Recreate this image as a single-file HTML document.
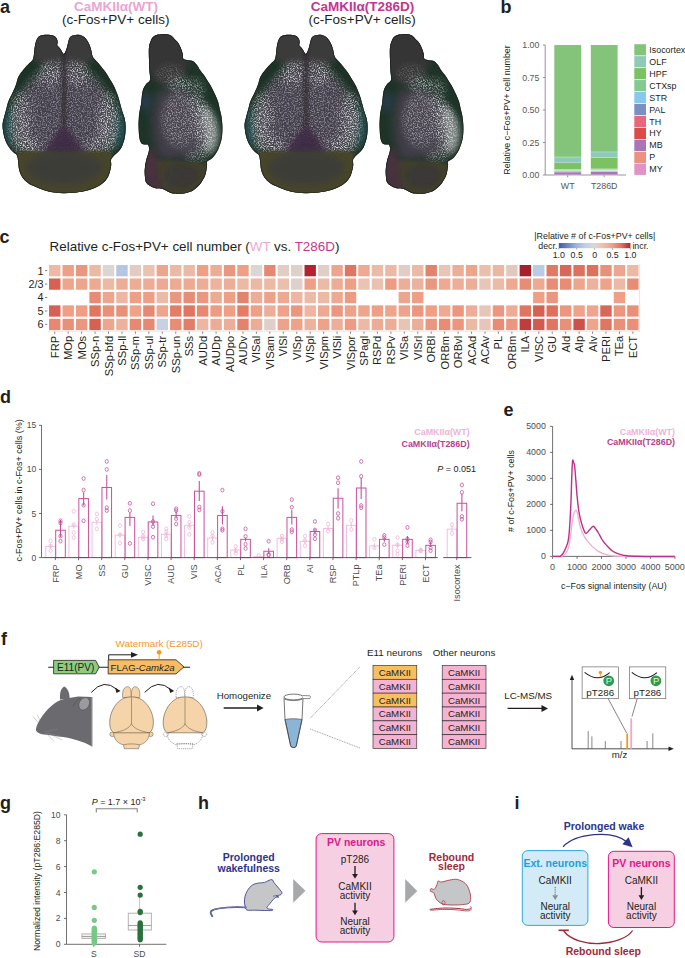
<!DOCTYPE html>
<html><head><meta charset="utf-8"><style>
html,body{margin:0;padding:0;background:#fff;width:685px;height:958px;overflow:hidden}
svg{display:block}
text{font-family:"Liberation Sans", sans-serif}
</style></head><body>
<svg width="685" height="958" viewBox="0 0 685 958" font-family='"Liberation Sans", sans-serif'>
<defs>
<filter id="bl1" x="-50%" y="-50%" width="200%" height="200%"><feGaussianBlur stdDeviation="1.5"/></filter>
<filter id="bl2" x="-50%" y="-50%" width="200%" height="200%"><feGaussianBlur stdDeviation="3"/></filter>
<filter id="bl4" x="-50%" y="-50%" width="200%" height="200%"><feGaussianBlur stdDeviation="5"/></filter>
<filter id="bl8" x="-50%" y="-50%" width="200%" height="200%"><feGaussianBlur stdDeviation="8"/></filter>
</defs>
<text x="0" y="12.6" font-size="18" fill="#231f20" text-anchor="start" font-weight="bold">a</text>
<text x="500.5" y="12.8" font-size="18" fill="#231f20" text-anchor="start" font-weight="bold">b</text>
<text x="-0.4" y="242.6" font-size="18" fill="#231f20" text-anchor="start" font-weight="bold">c</text>
<text x="0" y="403.2" font-size="18" fill="#231f20" text-anchor="start" font-weight="bold">d</text>
<text x="503.5" y="416.3" font-size="18" fill="#231f20" text-anchor="start" font-weight="bold">e</text>
<text x="1" y="644.8" font-size="18" fill="#231f20" text-anchor="start" font-weight="bold">f</text>
<text x="0" y="808.6" font-size="18" fill="#231f20" text-anchor="start" font-weight="bold">g</text>
<text x="198" y="808.8" font-size="18" fill="#231f20" text-anchor="start" font-weight="bold">h</text>
<text x="514.4" y="809.2" font-size="18" fill="#231f20" text-anchor="start" font-weight="bold">i</text>
<text x="116" y="10.8" font-size="13.5" fill="#e9a6d0" text-anchor="middle" font-weight="bold">CaMKIIα(WT)</text>
<text x="115.75" y="23.7" font-size="13.5" fill="#231f20" text-anchor="middle">(c-Fos+PV+ cells)</text>
<text x="362.6" y="10.8" font-size="13.5" fill="#c2368f" text-anchor="middle" font-weight="bold">CaMKIIα(T286D)</text>
<text x="362.2" y="23.7" font-size="13.5" fill="#231f20" text-anchor="middle">(c-Fos+PV+ cells)</text>
<defs><clipPath id="cpD"><path d="M63.8,54.0 C64.7,53.8 65.8,51.0 66.5,49.0 C67.2,47.0 67.8,43.8 68.3,42.0 C68.8,40.2 68.9,39.0 69.5,38.0 C70.1,37.0 70.9,36.2 72.0,35.7 C73.1,35.2 74.6,35.0 76.0,34.9 C77.4,34.8 79.1,34.8 80.5,35.2 C81.9,35.6 83.3,36.2 84.5,37.2 C85.7,38.2 86.6,39.6 87.5,41.0 C88.4,42.4 89.2,43.9 89.8,45.5 C90.4,47.1 90.9,48.8 91.3,50.5 C91.7,52.2 91.8,54.1 92.3,55.5 C92.8,56.9 93.1,57.5 94.0,58.6 C94.9,59.7 96.2,60.8 97.5,62.2 C98.8,63.6 100.2,65.4 101.5,67.0 C102.8,68.6 104.2,70.1 105.5,72.0 C106.8,73.9 108.0,76.1 109.5,78.5 C111.0,80.9 112.8,83.6 114.2,86.5 C115.6,89.4 116.9,92.9 118.0,96.0 C119.1,99.1 119.8,102.3 120.6,105.0 C121.3,107.7 121.8,109.7 122.5,112.0 C123.2,114.3 124.3,116.7 124.8,119.0 C125.3,121.3 125.5,123.7 125.6,126.0 C125.7,128.3 125.6,130.7 125.4,133.0 C125.2,135.3 124.9,137.6 124.2,140.0 C123.5,142.4 122.6,145.3 121.5,147.4 C120.4,149.5 118.9,151.0 117.5,152.5 C116.1,154.0 114.3,155.2 113.2,156.5 C112.1,157.8 111.3,158.5 111.0,160.0 C110.7,161.5 111.5,163.2 111.2,165.5 C110.9,167.8 110.1,171.6 109.2,174.0 C108.3,176.4 107.5,178.1 106.0,180.0 C104.5,181.9 102.3,183.8 100.0,185.3 C97.7,186.8 94.7,188.0 92.0,189.0 C89.3,190.0 87.0,190.7 84.0,191.3 C81.0,191.9 77.3,192.5 74.0,192.8 C70.7,193.1 67.3,193.2 64.0,193.2 C60.7,193.2 57.2,193.0 54.0,192.6 C50.8,192.2 48.0,191.4 45.0,190.5 C42.0,189.6 38.8,188.2 36.0,187.0 C33.2,185.8 30.2,184.6 28.0,183.0 C25.8,181.4 24.0,179.7 22.5,177.5 C21.0,175.3 19.9,172.6 19.2,170.0 C18.5,167.4 18.6,164.4 18.2,162.0 C17.8,159.6 17.9,157.2 17.0,155.5 C16.1,153.8 13.9,153.0 12.5,151.5 C11.1,150.0 9.7,148.4 8.5,146.5 C7.3,144.6 6.1,142.4 5.2,140.0 C4.3,137.6 3.6,134.7 3.2,132.0 C2.8,129.3 2.4,126.7 2.6,124.0 C2.8,121.3 3.8,118.5 4.4,116.0 C5.0,113.5 5.6,111.5 6.3,109.0 C7.0,106.5 7.4,103.8 8.5,101.0 C9.6,98.2 11.6,94.8 12.8,92.0 C14.1,89.2 15.1,87.1 16.0,84.5 C16.9,81.9 17.2,79.0 18.5,76.5 C19.8,74.0 21.8,71.6 23.5,69.5 C25.2,67.4 26.9,65.7 28.5,64.0 C30.1,62.3 31.9,61.2 32.8,59.5 C33.7,57.8 33.7,55.9 34.0,54.0 C34.3,52.1 34.3,50.0 34.6,48.0 C34.9,46.0 35.2,43.8 35.8,42.0 C36.4,40.2 37.0,38.5 38.0,37.4 C39.0,36.3 40.4,35.7 42.0,35.3 C43.6,34.9 45.7,34.8 47.5,34.8 C49.3,34.8 51.5,35.0 53.0,35.6 C54.5,36.2 55.7,37.1 56.5,38.2 C57.3,39.3 57.5,40.8 57.6,42.0 C57.7,43.2 57.0,44.4 57.2,45.3 C57.4,46.2 58.3,46.5 59.0,47.3 C59.7,48.1 60.4,49.1 61.2,50.2 C62.0,51.3 62.9,54.2 63.8,54.0Z"/></clipPath><clipPath id="cpS"><path d="M148.9,48.0 C149.2,44.9 149.8,43.3 150.5,41.5 C151.2,39.7 151.8,38.1 153.0,37.0 C154.2,35.9 155.9,35.1 158.0,34.6 C160.1,34.1 163.3,33.8 165.5,33.9 C167.7,34.0 169.4,34.5 171.0,35.5 C172.6,36.5 173.9,38.4 175.2,39.7 C176.5,41.0 177.7,42.1 178.6,43.5 C179.5,44.9 180.1,46.3 180.8,48.0 C181.5,49.7 182.2,51.6 182.6,53.5 C183.0,55.4 182.6,58.0 183.5,59.1 C184.4,60.2 186.4,59.9 188.0,60.2 C189.6,60.6 191.8,60.4 193.3,61.2 C194.8,62.0 195.8,63.5 197.0,65.0 C198.2,66.5 199.0,68.5 200.2,70.2 C201.4,71.9 202.8,73.4 204.0,75.0 C205.2,76.6 206.1,78.4 207.1,80.0 C208.1,81.6 209.3,83.2 210.2,84.8 C211.1,86.4 211.8,87.8 212.7,89.6 C213.6,91.4 214.7,93.5 215.6,95.6 C216.5,97.7 217.5,99.8 218.2,102.1 C218.9,104.4 219.2,106.7 219.8,109.2 C220.4,111.7 221.2,114.2 221.6,117.0 C222.0,119.8 222.3,123.1 222.4,125.8 C222.5,128.5 222.5,130.6 222.3,133.0 C222.1,135.4 222.1,137.3 221.4,140.0 C220.7,142.7 219.6,146.5 218.2,149.4 C216.8,152.3 214.5,155.7 212.7,157.7 C210.8,159.7 208.0,160.3 207.1,161.5 C206.2,162.7 207.2,163.2 207.1,164.6 C207.0,166.0 206.8,168.2 206.4,170.0 C206.1,171.8 206.0,173.4 205.0,175.7 C204.0,178.0 202.1,181.6 200.2,184.0 C198.2,186.4 195.5,188.8 193.3,190.3 C191.1,191.8 189.1,192.2 187.0,192.8 C184.9,193.4 183.0,193.7 180.8,193.8 C178.6,193.9 175.8,193.7 174.0,193.5 C172.2,193.3 171.6,193.2 169.7,192.4 C167.8,191.6 165.0,189.6 162.7,188.9 C160.4,188.2 157.8,188.5 156.0,188.2 C154.2,187.8 153.1,187.6 151.6,186.8 C150.1,186.0 148.0,184.7 147.0,183.5 C146.0,182.3 145.8,182.1 145.4,179.9 C145.0,177.7 144.6,173.4 144.7,170.2 C144.8,167.0 145.4,163.7 146.1,160.5 C146.8,157.3 148.6,153.4 148.9,150.8 C149.2,148.2 149.0,146.3 148.2,145.2 C147.4,144.1 145.2,144.8 144.0,144.4 C142.8,144.1 142.0,144.3 141.2,143.1 C140.4,141.8 139.6,139.8 139.2,136.9 C138.8,134.0 138.6,128.9 138.5,125.8 C138.4,122.6 138.7,120.1 138.8,118.0 C138.9,115.9 139.0,115.0 139.2,113.3 C139.4,111.6 139.9,109.7 140.2,108.0 C140.5,106.3 140.8,105.8 141.2,103.0 C141.6,100.2 141.8,94.2 142.6,91.0 C143.4,87.8 144.9,85.9 146.1,84.1 C147.3,82.3 149.4,82.1 150.0,80.0 C150.6,77.9 149.7,74.9 149.5,71.6 C149.3,68.3 149.1,63.9 149.0,60.0 C148.9,56.1 148.7,51.1 148.9,48.0Z"/></clipPath><filter id="spk" x="0" y="0" width="1" height="1"><feTurbulence type="fractalNoise" baseFrequency="0.8" numOctaves="2" seed="4"/><feColorMatrix type="matrix" values="0 0 0 0 0.74  0 0 0 0 0.74  0 0 0 0 0.77  3.3 0 0 0 -1.42"/></filter><filter id="spk2" x="0" y="0" width="1" height="1"><feTurbulence type="fractalNoise" baseFrequency="0.8" numOctaves="2" seed="11"/><feColorMatrix type="matrix" values="0 0 0 0 0.74  0 0 0 0 0.74  0 0 0 0 0.77  3.3 0 0 0 -1.42"/></filter><filter id="spkS" x="0" y="0" width="1" height="1"><feTurbulence type="fractalNoise" baseFrequency="0.8" numOctaves="2" seed="21"/><feColorMatrix type="matrix" values="0 0 0 0 0.74  0 0 0 0 0.74  0 0 0 0 0.77  3.3 0 0 0 -1.42"/></filter><mask id="mD" maskUnits="userSpaceOnUse" x="0" y="30" width="130" height="170"><g filter="url(#bl2)"><path d="M64,60 C84,60 106,80 114,110 C118,130 114,148 104,154 L24,154 C14,148 10,130 14,110 C22,80 44,60 64,60 Z" fill="#fff" fill-opacity="0.45"/><ellipse cx="20" cy="122" rx="11" ry="30" fill="#fff" fill-opacity="0.85"/><ellipse cx="108" cy="122" rx="11" ry="30" fill="#fff" fill-opacity="0.85"/><ellipse cx="30" cy="146" rx="11" ry="8" fill="#fff"/><ellipse cx="98" cy="146" rx="11" ry="8" fill="#fff"/><ellipse cx="50" cy="74" rx="11" ry="12" fill="#fff" fill-opacity="0.8"/><ellipse cx="78" cy="74" rx="11" ry="12" fill="#fff" fill-opacity="0.8"/><path d="M46,156 C52,142 58,132 64,128 C70,132 76,142 82,156 Z" fill="#000" fill-opacity="0.6"/><ellipse cx="64" cy="170" rx="46" ry="17" fill="#000"/></g></mask><mask id="mS" maskUnits="userSpaceOnUse" x="130" y="30" width="100" height="170"><g filter="url(#bl2)"><path d="M196,96 C208,102 216,118 216,132 C215,148 208,156 200,156 C196,140 194,118 190,100 Z" fill="#fff"/><ellipse cx="180" cy="120" rx="18" ry="28" fill="#fff" fill-opacity="0.55"/><ellipse cx="180" cy="84" rx="12" ry="7" fill="#fff" fill-opacity="0.75"/><ellipse cx="196" cy="90" rx="8" ry="12" fill="#fff" fill-opacity="0.6"/><ellipse cx="170" cy="74" rx="14" ry="10" fill="#fff" fill-opacity="0.25"/><ellipse cx="196" cy="156" rx="11" ry="8" fill="#fff" fill-opacity="0.45"/><ellipse cx="168" cy="182" rx="30" ry="15" fill="#000"/></g></mask></defs>
<g transform="translate(0,0)"><g clip-path="url(#cpD)">
<rect x="0" y="30" width="130" height="170" fill="#1d3327"/>
<g filter="url(#bl4)"><ellipse cx="7" cy="128" rx="8" ry="22" fill="#1d4446"/><ellipse cx="121" cy="128" rx="8" ry="22" fill="#1d4446"/></g>
<g filter="url(#bl2)"><path d="M30,30 L98,30 L96,58 C88,66 76,70 64,70 C52,70 40,66 32,58 Z" fill="#3a3b3a"/></g>
<g filter="url(#bl4)"><path d="M64,66 C84,66 106,84 112,112 C114,134 108,150 96,156 L32,156 C20,150 14,134 16,112 C22,84 44,66 64,66 Z" fill="#3c3944"/></g>
<g filter="url(#bl2)"><rect x="61.5" y="52" width="5" height="80" fill="#383639"/></g>
<g filter="url(#bl2)"><path d="M44,154 C50,140 58,130 64,126 C70,130 78,140 84,154 Z" fill="#3f2e45"/></g>
<g mask="url(#mD)"><rect x="0" y="30" width="130" height="170" fill="#8c8b92" fill-opacity="0.15"/></g>
<g mask="url(#mD)"><rect x="0" y="30" width="130" height="170" filter="url(#spk)"/></g>
<g filter="url(#bl2)"><ellipse cx="17" cy="128" rx="8" ry="22" fill="#b8bcbc" fill-opacity="0.1"/><ellipse cx="111" cy="128" rx="8" ry="22" fill="#b8bcbc" fill-opacity="0.1"/></g>
<g filter="url(#bl1)" opacity="0.65"><rect x="61.5" y="52" width="5" height="74" fill="#332a31"/></g>
<g filter="url(#bl1)" opacity="0.75"><path d="M43,155 C50,142 58,130 64,125 C70,130 78,142 85,155 Z" fill="#3e2c44"/></g>
<g filter="url(#bl1)"><path d="M16,153 C30,149 44,152 64,154 C84,152 98,149 112,153 L118,200 L10,200 Z" fill="#47452c"/></g>
<g filter="url(#bl2)"><ellipse cx="64" cy="168" rx="38" ry="17" fill="#3d3c38"/></g>
<path d="M63.8,54.0 C64.7,53.8 65.8,51.0 66.5,49.0 C67.2,47.0 67.8,43.8 68.3,42.0 C68.8,40.2 68.9,39.0 69.5,38.0 C70.1,37.0 70.9,36.2 72.0,35.7 C73.1,35.2 74.6,35.0 76.0,34.9 C77.4,34.8 79.1,34.8 80.5,35.2 C81.9,35.6 83.3,36.2 84.5,37.2 C85.7,38.2 86.6,39.6 87.5,41.0 C88.4,42.4 89.2,43.9 89.8,45.5 C90.4,47.1 90.9,48.8 91.3,50.5 C91.7,52.2 91.8,54.1 92.3,55.5 C92.8,56.9 93.1,57.5 94.0,58.6 C94.9,59.7 96.2,60.8 97.5,62.2 C98.8,63.6 100.2,65.4 101.5,67.0 C102.8,68.6 104.2,70.1 105.5,72.0 C106.8,73.9 108.0,76.1 109.5,78.5 C111.0,80.9 112.8,83.6 114.2,86.5 C115.6,89.4 116.9,92.9 118.0,96.0 C119.1,99.1 119.8,102.3 120.6,105.0 C121.3,107.7 121.8,109.7 122.5,112.0 C123.2,114.3 124.3,116.7 124.8,119.0 C125.3,121.3 125.5,123.7 125.6,126.0 C125.7,128.3 125.6,130.7 125.4,133.0 C125.2,135.3 124.9,137.6 124.2,140.0 C123.5,142.4 122.6,145.3 121.5,147.4 C120.4,149.5 118.9,151.0 117.5,152.5 C116.1,154.0 114.3,155.2 113.2,156.5 C112.1,157.8 111.3,158.5 111.0,160.0 C110.7,161.5 111.5,163.2 111.2,165.5 C110.9,167.8 110.1,171.6 109.2,174.0 C108.3,176.4 107.5,178.1 106.0,180.0 C104.5,181.9 102.3,183.8 100.0,185.3 C97.7,186.8 94.7,188.0 92.0,189.0 C89.3,190.0 87.0,190.7 84.0,191.3 C81.0,191.9 77.3,192.5 74.0,192.8 C70.7,193.1 67.3,193.2 64.0,193.2 C60.7,193.2 57.2,193.0 54.0,192.6 C50.8,192.2 48.0,191.4 45.0,190.5 C42.0,189.6 38.8,188.2 36.0,187.0 C33.2,185.8 30.2,184.6 28.0,183.0 C25.8,181.4 24.0,179.7 22.5,177.5 C21.0,175.3 19.9,172.6 19.2,170.0 C18.5,167.4 18.6,164.4 18.2,162.0 C17.8,159.6 17.9,157.2 17.0,155.5 C16.1,153.8 13.9,153.0 12.5,151.5 C11.1,150.0 9.7,148.4 8.5,146.5 C7.3,144.6 6.1,142.4 5.2,140.0 C4.3,137.6 3.6,134.7 3.2,132.0 C2.8,129.3 2.4,126.7 2.6,124.0 C2.8,121.3 3.8,118.5 4.4,116.0 C5.0,113.5 5.6,111.5 6.3,109.0 C7.0,106.5 7.4,103.8 8.5,101.0 C9.6,98.2 11.6,94.8 12.8,92.0 C14.1,89.2 15.1,87.1 16.0,84.5 C16.9,81.9 17.2,79.0 18.5,76.5 C19.8,74.0 21.8,71.6 23.5,69.5 C25.2,67.4 26.9,65.7 28.5,64.0 C30.1,62.3 31.9,61.2 32.8,59.5 C33.7,57.8 33.7,55.9 34.0,54.0 C34.3,52.1 34.3,50.0 34.6,48.0 C34.9,46.0 35.2,43.8 35.8,42.0 C36.4,40.2 37.0,38.5 38.0,37.4 C39.0,36.3 40.4,35.7 42.0,35.3 C43.6,34.9 45.7,34.8 47.5,34.8 C49.3,34.8 51.5,35.0 53.0,35.6 C54.5,36.2 55.7,37.1 56.5,38.2 C57.3,39.3 57.5,40.8 57.6,42.0 C57.7,43.2 57.0,44.4 57.2,45.3 C57.4,46.2 58.3,46.5 59.0,47.3 C59.7,48.1 60.4,49.1 61.2,50.2 C62.0,51.3 62.9,54.2 63.8,54.0Z" fill="none" stroke="#161812" stroke-width="1.3" opacity="0.8"/>
</g></g>
<g transform="translate(0,0)"><g clip-path="url(#cpS)">
<rect x="130" y="30" width="100" height="170" fill="#1e3428"/>
<g filter="url(#bl2)"><path d="M140,30 L190,30 L190,60 C186,75 178,84 166,86 C156,84 150,78 146,70 Z" fill="#353635"/></g>
<g filter="url(#bl4)"><path d="M158,92 C172,84 190,88 200,104 C208,120 208,142 200,156 L160,160 C152,140 150,110 158,92 Z" fill="#423c48"/></g>
<g filter="url(#bl2)"><ellipse cx="146" cy="102" rx="5" ry="10" fill="#2a3b4e"/></g>
<g mask="url(#mS)"><rect x="130" y="30" width="100" height="170" fill="#8c8b92" fill-opacity="0.15"/></g>
<g mask="url(#mS)"><rect x="130" y="30" width="100" height="170" filter="url(#spkS)"/></g>
<g filter="url(#bl2)"><path d="M205,106 C214,112 219,124 219,136 C218,148 213,154 207,154 C205,140 204,124 201,110 Z" fill="#d0d0d4" fill-opacity="0.5"/></g>
<g filter="url(#bl1)"><path d="M146,162 C160,158 180,162 208,164 L212,200 L140,200 Z" fill="#433f2c"/></g>
<g filter="url(#bl2)"><ellipse cx="182" cy="176" rx="18" ry="13" fill="#3b3936"/></g>
<g filter="url(#bl2)"><path d="M144,150 C150,146 156,150 158,160 L160,190 L140,190 Z" fill="#46323e"/><path d="M140,174 L162,180 L162,200 L140,200 Z" fill="#45323d"/></g>
<line x1="173" y1="165" x2="166" y2="190" stroke="#3a3f4a" stroke-width="0.8"/>
<path d="M148.9,48.0 C149.2,44.9 149.8,43.3 150.5,41.5 C151.2,39.7 151.8,38.1 153.0,37.0 C154.2,35.9 155.9,35.1 158.0,34.6 C160.1,34.1 163.3,33.8 165.5,33.9 C167.7,34.0 169.4,34.5 171.0,35.5 C172.6,36.5 173.9,38.4 175.2,39.7 C176.5,41.0 177.7,42.1 178.6,43.5 C179.5,44.9 180.1,46.3 180.8,48.0 C181.5,49.7 182.2,51.6 182.6,53.5 C183.0,55.4 182.6,58.0 183.5,59.1 C184.4,60.2 186.4,59.9 188.0,60.2 C189.6,60.6 191.8,60.4 193.3,61.2 C194.8,62.0 195.8,63.5 197.0,65.0 C198.2,66.5 199.0,68.5 200.2,70.2 C201.4,71.9 202.8,73.4 204.0,75.0 C205.2,76.6 206.1,78.4 207.1,80.0 C208.1,81.6 209.3,83.2 210.2,84.8 C211.1,86.4 211.8,87.8 212.7,89.6 C213.6,91.4 214.7,93.5 215.6,95.6 C216.5,97.7 217.5,99.8 218.2,102.1 C218.9,104.4 219.2,106.7 219.8,109.2 C220.4,111.7 221.2,114.2 221.6,117.0 C222.0,119.8 222.3,123.1 222.4,125.8 C222.5,128.5 222.5,130.6 222.3,133.0 C222.1,135.4 222.1,137.3 221.4,140.0 C220.7,142.7 219.6,146.5 218.2,149.4 C216.8,152.3 214.5,155.7 212.7,157.7 C210.8,159.7 208.0,160.3 207.1,161.5 C206.2,162.7 207.2,163.2 207.1,164.6 C207.0,166.0 206.8,168.2 206.4,170.0 C206.1,171.8 206.0,173.4 205.0,175.7 C204.0,178.0 202.1,181.6 200.2,184.0 C198.2,186.4 195.5,188.8 193.3,190.3 C191.1,191.8 189.1,192.2 187.0,192.8 C184.9,193.4 183.0,193.7 180.8,193.8 C178.6,193.9 175.8,193.7 174.0,193.5 C172.2,193.3 171.6,193.2 169.7,192.4 C167.8,191.6 165.0,189.6 162.7,188.9 C160.4,188.2 157.8,188.5 156.0,188.2 C154.2,187.8 153.1,187.6 151.6,186.8 C150.1,186.0 148.0,184.7 147.0,183.5 C146.0,182.3 145.8,182.1 145.4,179.9 C145.0,177.7 144.6,173.4 144.7,170.2 C144.8,167.0 145.4,163.7 146.1,160.5 C146.8,157.3 148.6,153.4 148.9,150.8 C149.2,148.2 149.0,146.3 148.2,145.2 C147.4,144.1 145.2,144.8 144.0,144.4 C142.8,144.1 142.0,144.3 141.2,143.1 C140.4,141.8 139.6,139.8 139.2,136.9 C138.8,134.0 138.6,128.9 138.5,125.8 C138.4,122.6 138.7,120.1 138.8,118.0 C138.9,115.9 139.0,115.0 139.2,113.3 C139.4,111.6 139.9,109.7 140.2,108.0 C140.5,106.3 140.8,105.8 141.2,103.0 C141.6,100.2 141.8,94.2 142.6,91.0 C143.4,87.8 144.9,85.9 146.1,84.1 C147.3,82.3 149.4,82.1 150.0,80.0 C150.6,77.9 149.7,74.9 149.5,71.6 C149.3,68.3 149.1,63.9 149.0,60.0 C148.9,56.1 148.7,51.1 148.9,48.0Z" fill="none" stroke="#161812" stroke-width="1.3" opacity="0.8"/>
</g></g>
<g transform="translate(242,0)"><g clip-path="url(#cpD)">
<rect x="0" y="30" width="130" height="170" fill="#1d3327"/>
<g filter="url(#bl4)"><ellipse cx="7" cy="128" rx="8" ry="22" fill="#1d4446"/><ellipse cx="121" cy="128" rx="8" ry="22" fill="#1d4446"/></g>
<g filter="url(#bl2)"><path d="M30,30 L98,30 L96,58 C88,66 76,70 64,70 C52,70 40,66 32,58 Z" fill="#3a3b3a"/></g>
<g filter="url(#bl4)"><path d="M64,66 C84,66 106,84 112,112 C114,134 108,150 96,156 L32,156 C20,150 14,134 16,112 C22,84 44,66 64,66 Z" fill="#3c3944"/></g>
<g filter="url(#bl2)"><rect x="61.5" y="52" width="5" height="80" fill="#383639"/></g>
<g filter="url(#bl2)"><path d="M44,154 C50,140 58,130 64,126 C70,130 78,140 84,154 Z" fill="#3f2e45"/></g>
<g mask="url(#mD)"><rect x="0" y="30" width="130" height="170" fill="#8c8b92" fill-opacity="0.15"/></g>
<g mask="url(#mD)"><rect x="0" y="30" width="130" height="170" filter="url(#spk2)"/></g>
<g filter="url(#bl2)"><ellipse cx="17" cy="128" rx="8" ry="22" fill="#b8bcbc" fill-opacity="0.1"/><ellipse cx="111" cy="128" rx="8" ry="22" fill="#b8bcbc" fill-opacity="0.1"/></g>
<g filter="url(#bl1)" opacity="0.65"><rect x="61.5" y="52" width="5" height="74" fill="#332a31"/></g>
<g filter="url(#bl1)" opacity="0.75"><path d="M43,155 C50,142 58,130 64,125 C70,130 78,142 85,155 Z" fill="#3e2c44"/></g>
<g filter="url(#bl1)"><path d="M16,153 C30,149 44,152 64,154 C84,152 98,149 112,153 L118,200 L10,200 Z" fill="#47452c"/></g>
<g filter="url(#bl2)"><ellipse cx="64" cy="168" rx="38" ry="17" fill="#3d3c38"/></g>
<path d="M63.8,54.0 C64.7,53.8 65.8,51.0 66.5,49.0 C67.2,47.0 67.8,43.8 68.3,42.0 C68.8,40.2 68.9,39.0 69.5,38.0 C70.1,37.0 70.9,36.2 72.0,35.7 C73.1,35.2 74.6,35.0 76.0,34.9 C77.4,34.8 79.1,34.8 80.5,35.2 C81.9,35.6 83.3,36.2 84.5,37.2 C85.7,38.2 86.6,39.6 87.5,41.0 C88.4,42.4 89.2,43.9 89.8,45.5 C90.4,47.1 90.9,48.8 91.3,50.5 C91.7,52.2 91.8,54.1 92.3,55.5 C92.8,56.9 93.1,57.5 94.0,58.6 C94.9,59.7 96.2,60.8 97.5,62.2 C98.8,63.6 100.2,65.4 101.5,67.0 C102.8,68.6 104.2,70.1 105.5,72.0 C106.8,73.9 108.0,76.1 109.5,78.5 C111.0,80.9 112.8,83.6 114.2,86.5 C115.6,89.4 116.9,92.9 118.0,96.0 C119.1,99.1 119.8,102.3 120.6,105.0 C121.3,107.7 121.8,109.7 122.5,112.0 C123.2,114.3 124.3,116.7 124.8,119.0 C125.3,121.3 125.5,123.7 125.6,126.0 C125.7,128.3 125.6,130.7 125.4,133.0 C125.2,135.3 124.9,137.6 124.2,140.0 C123.5,142.4 122.6,145.3 121.5,147.4 C120.4,149.5 118.9,151.0 117.5,152.5 C116.1,154.0 114.3,155.2 113.2,156.5 C112.1,157.8 111.3,158.5 111.0,160.0 C110.7,161.5 111.5,163.2 111.2,165.5 C110.9,167.8 110.1,171.6 109.2,174.0 C108.3,176.4 107.5,178.1 106.0,180.0 C104.5,181.9 102.3,183.8 100.0,185.3 C97.7,186.8 94.7,188.0 92.0,189.0 C89.3,190.0 87.0,190.7 84.0,191.3 C81.0,191.9 77.3,192.5 74.0,192.8 C70.7,193.1 67.3,193.2 64.0,193.2 C60.7,193.2 57.2,193.0 54.0,192.6 C50.8,192.2 48.0,191.4 45.0,190.5 C42.0,189.6 38.8,188.2 36.0,187.0 C33.2,185.8 30.2,184.6 28.0,183.0 C25.8,181.4 24.0,179.7 22.5,177.5 C21.0,175.3 19.9,172.6 19.2,170.0 C18.5,167.4 18.6,164.4 18.2,162.0 C17.8,159.6 17.9,157.2 17.0,155.5 C16.1,153.8 13.9,153.0 12.5,151.5 C11.1,150.0 9.7,148.4 8.5,146.5 C7.3,144.6 6.1,142.4 5.2,140.0 C4.3,137.6 3.6,134.7 3.2,132.0 C2.8,129.3 2.4,126.7 2.6,124.0 C2.8,121.3 3.8,118.5 4.4,116.0 C5.0,113.5 5.6,111.5 6.3,109.0 C7.0,106.5 7.4,103.8 8.5,101.0 C9.6,98.2 11.6,94.8 12.8,92.0 C14.1,89.2 15.1,87.1 16.0,84.5 C16.9,81.9 17.2,79.0 18.5,76.5 C19.8,74.0 21.8,71.6 23.5,69.5 C25.2,67.4 26.9,65.7 28.5,64.0 C30.1,62.3 31.9,61.2 32.8,59.5 C33.7,57.8 33.7,55.9 34.0,54.0 C34.3,52.1 34.3,50.0 34.6,48.0 C34.9,46.0 35.2,43.8 35.8,42.0 C36.4,40.2 37.0,38.5 38.0,37.4 C39.0,36.3 40.4,35.7 42.0,35.3 C43.6,34.9 45.7,34.8 47.5,34.8 C49.3,34.8 51.5,35.0 53.0,35.6 C54.5,36.2 55.7,37.1 56.5,38.2 C57.3,39.3 57.5,40.8 57.6,42.0 C57.7,43.2 57.0,44.4 57.2,45.3 C57.4,46.2 58.3,46.5 59.0,47.3 C59.7,48.1 60.4,49.1 61.2,50.2 C62.0,51.3 62.9,54.2 63.8,54.0Z" fill="none" stroke="#161812" stroke-width="1.3" opacity="0.8"/>
</g></g>
<g transform="translate(241,0)"><g clip-path="url(#cpS)">
<rect x="130" y="30" width="100" height="170" fill="#1e3428"/>
<g filter="url(#bl2)"><path d="M140,30 L190,30 L190,60 C186,75 178,84 166,86 C156,84 150,78 146,70 Z" fill="#353635"/></g>
<g filter="url(#bl4)"><path d="M158,92 C172,84 190,88 200,104 C208,120 208,142 200,156 L160,160 C152,140 150,110 158,92 Z" fill="#423c48"/></g>
<g filter="url(#bl2)"><ellipse cx="146" cy="102" rx="5" ry="10" fill="#2a3b4e"/></g>
<g mask="url(#mS)"><rect x="130" y="30" width="100" height="170" fill="#8c8b92" fill-opacity="0.15"/></g>
<g mask="url(#mS)"><rect x="130" y="30" width="100" height="170" filter="url(#spkS)"/></g>
<g filter="url(#bl2)"><path d="M205,106 C214,112 219,124 219,136 C218,148 213,154 207,154 C205,140 204,124 201,110 Z" fill="#d0d0d4" fill-opacity="0.5"/></g>
<g filter="url(#bl1)"><path d="M146,162 C160,158 180,162 208,164 L212,200 L140,200 Z" fill="#433f2c"/></g>
<g filter="url(#bl2)"><ellipse cx="182" cy="176" rx="18" ry="13" fill="#3b3936"/></g>
<g filter="url(#bl2)"><path d="M144,150 C150,146 156,150 158,160 L160,190 L140,190 Z" fill="#46323e"/><path d="M140,174 L162,180 L162,200 L140,200 Z" fill="#45323d"/></g>
<line x1="173" y1="165" x2="166" y2="190" stroke="#3a3f4a" stroke-width="0.8"/>
<path d="M148.9,48.0 C149.2,44.9 149.8,43.3 150.5,41.5 C151.2,39.7 151.8,38.1 153.0,37.0 C154.2,35.9 155.9,35.1 158.0,34.6 C160.1,34.1 163.3,33.8 165.5,33.9 C167.7,34.0 169.4,34.5 171.0,35.5 C172.6,36.5 173.9,38.4 175.2,39.7 C176.5,41.0 177.7,42.1 178.6,43.5 C179.5,44.9 180.1,46.3 180.8,48.0 C181.5,49.7 182.2,51.6 182.6,53.5 C183.0,55.4 182.6,58.0 183.5,59.1 C184.4,60.2 186.4,59.9 188.0,60.2 C189.6,60.6 191.8,60.4 193.3,61.2 C194.8,62.0 195.8,63.5 197.0,65.0 C198.2,66.5 199.0,68.5 200.2,70.2 C201.4,71.9 202.8,73.4 204.0,75.0 C205.2,76.6 206.1,78.4 207.1,80.0 C208.1,81.6 209.3,83.2 210.2,84.8 C211.1,86.4 211.8,87.8 212.7,89.6 C213.6,91.4 214.7,93.5 215.6,95.6 C216.5,97.7 217.5,99.8 218.2,102.1 C218.9,104.4 219.2,106.7 219.8,109.2 C220.4,111.7 221.2,114.2 221.6,117.0 C222.0,119.8 222.3,123.1 222.4,125.8 C222.5,128.5 222.5,130.6 222.3,133.0 C222.1,135.4 222.1,137.3 221.4,140.0 C220.7,142.7 219.6,146.5 218.2,149.4 C216.8,152.3 214.5,155.7 212.7,157.7 C210.8,159.7 208.0,160.3 207.1,161.5 C206.2,162.7 207.2,163.2 207.1,164.6 C207.0,166.0 206.8,168.2 206.4,170.0 C206.1,171.8 206.0,173.4 205.0,175.7 C204.0,178.0 202.1,181.6 200.2,184.0 C198.2,186.4 195.5,188.8 193.3,190.3 C191.1,191.8 189.1,192.2 187.0,192.8 C184.9,193.4 183.0,193.7 180.8,193.8 C178.6,193.9 175.8,193.7 174.0,193.5 C172.2,193.3 171.6,193.2 169.7,192.4 C167.8,191.6 165.0,189.6 162.7,188.9 C160.4,188.2 157.8,188.5 156.0,188.2 C154.2,187.8 153.1,187.6 151.6,186.8 C150.1,186.0 148.0,184.7 147.0,183.5 C146.0,182.3 145.8,182.1 145.4,179.9 C145.0,177.7 144.6,173.4 144.7,170.2 C144.8,167.0 145.4,163.7 146.1,160.5 C146.8,157.3 148.6,153.4 148.9,150.8 C149.2,148.2 149.0,146.3 148.2,145.2 C147.4,144.1 145.2,144.8 144.0,144.4 C142.8,144.1 142.0,144.3 141.2,143.1 C140.4,141.8 139.6,139.8 139.2,136.9 C138.8,134.0 138.6,128.9 138.5,125.8 C138.4,122.6 138.7,120.1 138.8,118.0 C138.9,115.9 139.0,115.0 139.2,113.3 C139.4,111.6 139.9,109.7 140.2,108.0 C140.5,106.3 140.8,105.8 141.2,103.0 C141.6,100.2 141.8,94.2 142.6,91.0 C143.4,87.8 144.9,85.9 146.1,84.1 C147.3,82.3 149.4,82.1 150.0,80.0 C150.6,77.9 149.7,74.9 149.5,71.6 C149.3,68.3 149.1,63.9 149.0,60.0 C148.9,56.1 148.7,51.1 148.9,48.0Z" fill="none" stroke="#161812" stroke-width="1.3" opacity="0.8"/>
</g></g>
<line x1="545.2" y1="45.0" x2="545.2" y2="175.0" stroke="#7a7a7a" stroke-width="0.8"/>
<line x1="545.2" y1="175.0" x2="626" y2="175.0" stroke="#7a7a7a" stroke-width="0.8"/>
<line x1="542.8" y1="45.0" x2="545.2" y2="45.0" stroke="#7a7a7a" stroke-width="0.8"/>
<text x="539.4" y="48.1" font-size="8.8" fill="#575757" text-anchor="end">1.00</text>
<line x1="542.8" y1="77.5" x2="545.2" y2="77.5" stroke="#7a7a7a" stroke-width="0.8"/>
<text x="539.4" y="80.6" font-size="8.8" fill="#575757" text-anchor="end">0.75</text>
<line x1="542.8" y1="110.0" x2="545.2" y2="110.0" stroke="#7a7a7a" stroke-width="0.8"/>
<text x="539.4" y="113.1" font-size="8.8" fill="#575757" text-anchor="end">0.50</text>
<line x1="542.8" y1="142.5" x2="545.2" y2="142.5" stroke="#7a7a7a" stroke-width="0.8"/>
<text x="539.4" y="145.6" font-size="8.8" fill="#575757" text-anchor="end">0.25</text>
<line x1="542.8" y1="175.0" x2="545.2" y2="175.0" stroke="#7a7a7a" stroke-width="0.8"/>
<text x="539.4" y="178.1" font-size="8.8" fill="#575757" text-anchor="end">0.00</text>
<line x1="567.7" y1="175.0" x2="567.7" y2="177.4" stroke="#7a7a7a" stroke-width="0.8"/>
<line x1="604.2" y1="175.0" x2="604.2" y2="177.4" stroke="#7a7a7a" stroke-width="0.8"/>
<text x="567.7" y="188.5" font-size="8.9" fill="#575757" text-anchor="middle">WT</text>
<text x="604.2" y="188.5" font-size="8.9" fill="#575757" text-anchor="middle">T286D</text>
<text x="510.3" y="110" font-size="8.9" fill="#231f20" text-anchor="middle" transform="rotate(-90 510.3 110)">Relative c−Fos+PV+ cell number</text>
<rect x="554.3" y="45.00" width="26.90000000000009" height="112.19" fill="#84c47a"/>
<line x1="554.3" y1="157.19" x2="581.2" y2="157.19" stroke="#fff" stroke-width="0.5"/>
<rect x="554.3" y="157.19" width="26.90000000000009" height="5.85" fill="#8fcab8"/>
<line x1="554.3" y1="163.04" x2="581.2" y2="163.04" stroke="#fff" stroke-width="0.5"/>
<rect x="554.3" y="163.04" width="26.90000000000009" height="6.76" fill="#7cc162"/>
<line x1="554.3" y1="169.80" x2="581.2" y2="169.80" stroke="#fff" stroke-width="0.5"/>
<rect x="554.3" y="169.80" width="26.90000000000009" height="1.30" fill="#b4e0c8"/>
<line x1="554.3" y1="171.10" x2="581.2" y2="171.10" stroke="#fff" stroke-width="0.5"/>
<rect x="554.3" y="171.10" width="26.90000000000009" height="1.17" fill="#87c9eb"/>
<line x1="554.3" y1="172.27" x2="581.2" y2="172.27" stroke="#fff" stroke-width="0.5"/>
<rect x="554.3" y="172.27" width="26.90000000000009" height="2.73" fill="#a975b5"/>
<line x1="554.3" y1="175.00" x2="581.2" y2="175.00" stroke="#fff" stroke-width="0.5"/>
<rect x="590.8" y="45.00" width="26.800000000000068" height="107.12" fill="#84c47a"/>
<line x1="590.8" y1="152.12" x2="617.6" y2="152.12" stroke="#fff" stroke-width="0.5"/>
<rect x="590.8" y="152.12" width="26.800000000000068" height="5.72" fill="#8fcab8"/>
<line x1="590.8" y1="157.84" x2="617.6" y2="157.84" stroke="#fff" stroke-width="0.5"/>
<rect x="590.8" y="157.84" width="26.800000000000068" height="11.18" fill="#7cc162"/>
<line x1="590.8" y1="169.02" x2="617.6" y2="169.02" stroke="#fff" stroke-width="0.5"/>
<rect x="590.8" y="169.02" width="26.800000000000068" height="1.82" fill="#b4e0c8"/>
<line x1="590.8" y1="170.84" x2="617.6" y2="170.84" stroke="#fff" stroke-width="0.5"/>
<rect x="590.8" y="170.84" width="26.800000000000068" height="0.78" fill="#bfe3ef"/>
<line x1="590.8" y1="171.62" x2="617.6" y2="171.62" stroke="#fff" stroke-width="0.5"/>
<rect x="590.8" y="171.62" width="26.800000000000068" height="3.38" fill="#a975b5"/>
<line x1="590.8" y1="175.00" x2="617.6" y2="175.00" stroke="#fff" stroke-width="0.5"/>
<rect x="634.3" y="44.20" width="11.7" height="11.2" fill="#84c47a"/>
<text x="649.3" y="52.800000000000004" font-size="8.9" fill="#231f20" text-anchor="start">Isocortex</text>
<rect x="634.3" y="56.15" width="11.7" height="11.2" fill="#8fcab8"/>
<text x="649.3" y="64.75" font-size="8.9" fill="#231f20" text-anchor="start">OLF</text>
<rect x="634.3" y="68.10" width="11.7" height="11.2" fill="#7cc162"/>
<text x="649.3" y="76.69999999999999" font-size="8.9" fill="#231f20" text-anchor="start">HPF</text>
<rect x="634.3" y="80.05" width="11.7" height="11.2" fill="#84c98f"/>
<text x="649.3" y="88.64999999999999" font-size="8.9" fill="#231f20" text-anchor="start">CTXsp</text>
<rect x="634.3" y="92.00" width="11.7" height="11.2" fill="#87c9eb"/>
<text x="649.3" y="100.6" font-size="8.9" fill="#231f20" text-anchor="start">STR</text>
<rect x="634.3" y="103.95" width="11.7" height="11.2" fill="#7a8fc2"/>
<text x="649.3" y="112.55" font-size="8.9" fill="#231f20" text-anchor="start">PAL</text>
<rect x="634.3" y="115.90" width="11.7" height="11.2" fill="#e7687d"/>
<text x="649.3" y="124.49999999999999" font-size="8.9" fill="#231f20" text-anchor="start">TH</text>
<rect x="634.3" y="127.85" width="11.7" height="11.2" fill="#db4b48"/>
<text x="649.3" y="136.45" font-size="8.9" fill="#231f20" text-anchor="start">HY</text>
<rect x="634.3" y="139.80" width="11.7" height="11.2" fill="#a975b5"/>
<text x="649.3" y="148.4" font-size="8.9" fill="#231f20" text-anchor="start">MB</text>
<rect x="634.3" y="151.75" width="11.7" height="11.2" fill="#ec907f"/>
<text x="649.3" y="160.35" font-size="8.9" fill="#231f20" text-anchor="start">P</text>
<rect x="634.3" y="163.70" width="11.7" height="11.2" fill="#e492c5"/>
<text x="649.3" y="172.29999999999998" font-size="8.9" fill="#231f20" text-anchor="start">MY</text>
<rect x="49.05" y="265.00" width="11.4" height="11.3" fill="#ecb9a5"/>
<rect x="62.49" y="265.00" width="11.4" height="11.3" fill="#ee9f86"/>
<rect x="75.94" y="265.00" width="11.4" height="11.3" fill="#eb967e"/>
<rect x="89.38" y="265.00" width="11.4" height="11.3" fill="#ecb9a5"/>
<rect x="102.83" y="265.00" width="11.4" height="11.3" fill="#dbd6d4"/>
<rect x="116.27" y="265.00" width="11.4" height="11.3" fill="#b3c6e2"/>
<rect x="129.72" y="265.00" width="11.4" height="11.3" fill="#e3cbc1"/>
<rect x="143.17" y="265.00" width="11.4" height="11.3" fill="#e9c2b2"/>
<rect x="156.61" y="265.00" width="11.4" height="11.3" fill="#eda58e"/>
<rect x="170.06" y="265.00" width="11.4" height="11.3" fill="#ecb9a5"/>
<rect x="183.50" y="265.00" width="11.4" height="11.3" fill="#ecb9a5"/>
<rect x="196.94" y="265.00" width="11.4" height="11.3" fill="#ee9f86"/>
<rect x="210.39" y="265.00" width="11.4" height="11.3" fill="#edac96"/>
<rect x="223.83" y="265.00" width="11.4" height="11.3" fill="#eb967e"/>
<rect x="237.28" y="265.00" width="11.4" height="11.3" fill="#ee9f86"/>
<rect x="250.73" y="265.00" width="11.4" height="11.3" fill="#dbd6d4"/>
<rect x="264.17" y="265.00" width="11.4" height="11.3" fill="#e68872"/>
<rect x="277.62" y="265.00" width="11.4" height="11.3" fill="#e1cdc4"/>
<rect x="291.06" y="265.00" width="11.4" height="11.3" fill="#ded1cc"/>
<rect x="304.50" y="265.00" width="11.4" height="11.3" fill="#b3232f"/>
<rect x="317.95" y="265.00" width="11.4" height="11.3" fill="#e0cfc8"/>
<rect x="331.40" y="265.00" width="11.4" height="11.3" fill="#eda58e"/>
<rect x="344.84" y="265.00" width="11.4" height="11.3" fill="#e07661"/>
<rect x="358.29" y="265.00" width="11.4" height="11.3" fill="#eda992"/>
<rect x="371.73" y="265.00" width="11.4" height="11.3" fill="#ebbba8"/>
<rect x="385.18" y="265.00" width="11.4" height="11.3" fill="#ecb9a5"/>
<rect x="398.62" y="265.00" width="11.4" height="11.3" fill="#e1cdc4"/>
<rect x="412.06" y="265.00" width="11.4" height="11.3" fill="#ecb9a5"/>
<rect x="425.51" y="265.00" width="11.4" height="11.3" fill="#e4836d"/>
<rect x="438.96" y="265.00" width="11.4" height="11.3" fill="#e7c5b8"/>
<rect x="452.40" y="265.00" width="11.4" height="11.3" fill="#edae99"/>
<rect x="465.85" y="265.00" width="11.4" height="11.3" fill="#eda58e"/>
<rect x="479.29" y="265.00" width="11.4" height="11.3" fill="#ebbfad"/>
<rect x="492.74" y="265.00" width="11.4" height="11.3" fill="#ecb6a2"/>
<rect x="506.18" y="265.00" width="11.4" height="11.3" fill="#e5c8bd"/>
<rect x="519.62" y="265.00" width="11.4" height="11.3" fill="#a81e2b"/>
<rect x="533.07" y="265.00" width="11.4" height="11.3" fill="#bbcbe4"/>
<rect x="546.51" y="265.00" width="11.4" height="11.3" fill="#e17964"/>
<rect x="559.96" y="265.00" width="11.4" height="11.3" fill="#d96757"/>
<rect x="573.40" y="265.00" width="11.4" height="11.3" fill="#de705c"/>
<rect x="586.85" y="265.00" width="11.4" height="11.3" fill="#de705c"/>
<rect x="600.29" y="265.00" width="11.4" height="11.3" fill="#e99079"/>
<rect x="613.74" y="265.00" width="11.4" height="11.3" fill="#eda58e"/>
<rect x="627.18" y="265.00" width="11.4" height="11.3" fill="#ecb9a5"/>
<rect x="49.05" y="278.45" width="11.4" height="11.3" fill="#d56153"/>
<rect x="62.49" y="278.45" width="11.4" height="11.3" fill="#eda58e"/>
<rect x="75.94" y="278.45" width="11.4" height="11.3" fill="#eda58e"/>
<rect x="89.38" y="278.45" width="11.4" height="11.3" fill="#eda992"/>
<rect x="102.83" y="278.45" width="11.4" height="11.3" fill="#ecb9a5"/>
<rect x="116.27" y="278.45" width="11.4" height="11.3" fill="#edac96"/>
<rect x="129.72" y="278.45" width="11.4" height="11.3" fill="#edac96"/>
<rect x="143.17" y="278.45" width="11.4" height="11.3" fill="#edac96"/>
<rect x="156.61" y="278.45" width="11.4" height="11.3" fill="#eda992"/>
<rect x="170.06" y="278.45" width="11.4" height="11.3" fill="#eda992"/>
<rect x="183.50" y="278.45" width="11.4" height="11.3" fill="#eda992"/>
<rect x="196.94" y="278.45" width="11.4" height="11.3" fill="#edac96"/>
<rect x="210.39" y="278.45" width="11.4" height="11.3" fill="#ecb29d"/>
<rect x="223.83" y="278.45" width="11.4" height="11.3" fill="#edae99"/>
<rect x="237.28" y="278.45" width="11.4" height="11.3" fill="#ecb9a5"/>
<rect x="250.73" y="278.45" width="11.4" height="11.3" fill="#ecb9a5"/>
<rect x="264.17" y="278.45" width="11.4" height="11.3" fill="#ecb9a5"/>
<rect x="277.62" y="278.45" width="11.4" height="11.3" fill="#ebbfad"/>
<rect x="291.06" y="278.45" width="11.4" height="11.3" fill="#ded1cc"/>
<rect x="304.50" y="278.45" width="11.4" height="11.3" fill="#ee9f86"/>
<rect x="317.95" y="278.45" width="11.4" height="11.3" fill="#ebbba8"/>
<rect x="331.40" y="278.45" width="11.4" height="11.3" fill="#edac96"/>
<rect x="344.84" y="278.45" width="11.4" height="11.3" fill="#ee9f86"/>
<rect x="358.29" y="278.45" width="11.4" height="11.3" fill="#e8c4b5"/>
<rect x="371.73" y="278.45" width="11.4" height="11.3" fill="#e9c2b2"/>
<rect x="385.18" y="278.45" width="11.4" height="11.3" fill="#ed9b83"/>
<rect x="398.62" y="278.45" width="11.4" height="11.3" fill="#edae99"/>
<rect x="412.06" y="278.45" width="11.4" height="11.3" fill="#ecb29d"/>
<rect x="425.51" y="278.45" width="11.4" height="11.3" fill="#eb967e"/>
<rect x="438.96" y="278.45" width="11.4" height="11.3" fill="#eda992"/>
<rect x="452.40" y="278.45" width="11.4" height="11.3" fill="#edae99"/>
<rect x="465.85" y="278.45" width="11.4" height="11.3" fill="#edae99"/>
<rect x="479.29" y="278.45" width="11.4" height="11.3" fill="#e7c5b8"/>
<rect x="492.74" y="278.45" width="11.4" height="11.3" fill="#ebbba8"/>
<rect x="506.18" y="278.45" width="11.4" height="11.3" fill="#eda992"/>
<rect x="519.62" y="278.45" width="11.4" height="11.3" fill="#e88c75"/>
<rect x="533.07" y="278.45" width="11.4" height="11.3" fill="#eda992"/>
<rect x="546.51" y="278.45" width="11.4" height="11.3" fill="#e88c75"/>
<rect x="559.96" y="278.45" width="11.4" height="11.3" fill="#e88c75"/>
<rect x="573.40" y="278.45" width="11.4" height="11.3" fill="#eda58e"/>
<rect x="586.85" y="278.45" width="11.4" height="11.3" fill="#ecb29d"/>
<rect x="600.29" y="278.45" width="11.4" height="11.3" fill="#eea289"/>
<rect x="613.74" y="278.45" width="11.4" height="11.3" fill="#ecb9a5"/>
<rect x="627.18" y="278.45" width="11.4" height="11.3" fill="#e88c75"/>
<rect x="89.38" y="291.90" width="11.4" height="11.3" fill="#e88c75"/>
<rect x="102.83" y="291.90" width="11.4" height="11.3" fill="#eda58e"/>
<rect x="116.27" y="291.90" width="11.4" height="11.3" fill="#ecb6a2"/>
<rect x="129.72" y="291.90" width="11.4" height="11.3" fill="#ee9f86"/>
<rect x="143.17" y="291.90" width="11.4" height="11.3" fill="#ee9f86"/>
<rect x="156.61" y="291.90" width="11.4" height="11.3" fill="#ebbba8"/>
<rect x="170.06" y="291.90" width="11.4" height="11.3" fill="#eb967e"/>
<rect x="183.50" y="291.90" width="11.4" height="11.3" fill="#e88c75"/>
<rect x="196.94" y="291.90" width="11.4" height="11.3" fill="#eb967e"/>
<rect x="210.39" y="291.90" width="11.4" height="11.3" fill="#eda992"/>
<rect x="223.83" y="291.90" width="11.4" height="11.3" fill="#ee9f86"/>
<rect x="237.28" y="291.90" width="11.4" height="11.3" fill="#e4836d"/>
<rect x="250.73" y="291.90" width="11.4" height="11.3" fill="#edac96"/>
<rect x="264.17" y="291.90" width="11.4" height="11.3" fill="#eea289"/>
<rect x="277.62" y="291.90" width="11.4" height="11.3" fill="#eda992"/>
<rect x="291.06" y="291.90" width="11.4" height="11.3" fill="#ecb6a2"/>
<rect x="304.50" y="291.90" width="11.4" height="11.3" fill="#ebbba8"/>
<rect x="317.95" y="291.90" width="11.4" height="11.3" fill="#ecb9a5"/>
<rect x="331.40" y="291.90" width="11.4" height="11.3" fill="#eda992"/>
<rect x="344.84" y="291.90" width="11.4" height="11.3" fill="#ed9b83"/>
<rect x="398.62" y="291.90" width="11.4" height="11.3" fill="#eda58e"/>
<rect x="412.06" y="291.90" width="11.4" height="11.3" fill="#ee9f86"/>
<rect x="533.07" y="291.90" width="11.4" height="11.3" fill="#ee9f86"/>
<rect x="546.51" y="291.90" width="11.4" height="11.3" fill="#eb967e"/>
<rect x="613.74" y="291.90" width="11.4" height="11.3" fill="#ee9f86"/>
<rect x="49.05" y="305.35" width="11.4" height="11.3" fill="#d56153"/>
<rect x="62.49" y="305.35" width="11.4" height="11.3" fill="#ee9f86"/>
<rect x="75.94" y="305.35" width="11.4" height="11.3" fill="#ee9f86"/>
<rect x="89.38" y="305.35" width="11.4" height="11.3" fill="#e07661"/>
<rect x="102.83" y="305.35" width="11.4" height="11.3" fill="#e99079"/>
<rect x="116.27" y="305.35" width="11.4" height="11.3" fill="#e99079"/>
<rect x="129.72" y="305.35" width="11.4" height="11.3" fill="#eea289"/>
<rect x="143.17" y="305.35" width="11.4" height="11.3" fill="#e68872"/>
<rect x="156.61" y="305.35" width="11.4" height="11.3" fill="#eda58e"/>
<rect x="170.06" y="305.35" width="11.4" height="11.3" fill="#e27d68"/>
<rect x="183.50" y="305.35" width="11.4" height="11.3" fill="#e07661"/>
<rect x="196.94" y="305.35" width="11.4" height="11.3" fill="#e68872"/>
<rect x="210.39" y="305.35" width="11.4" height="11.3" fill="#ed9b83"/>
<rect x="223.83" y="305.35" width="11.4" height="11.3" fill="#ee9f86"/>
<rect x="237.28" y="305.35" width="11.4" height="11.3" fill="#e27d68"/>
<rect x="250.73" y="305.35" width="11.4" height="11.3" fill="#ee9f86"/>
<rect x="264.17" y="305.35" width="11.4" height="11.3" fill="#edae99"/>
<rect x="277.62" y="305.35" width="11.4" height="11.3" fill="#eea289"/>
<rect x="291.06" y="305.35" width="11.4" height="11.3" fill="#eb967e"/>
<rect x="304.50" y="305.35" width="11.4" height="11.3" fill="#ecb6a2"/>
<rect x="317.95" y="305.35" width="11.4" height="11.3" fill="#eda992"/>
<rect x="331.40" y="305.35" width="11.4" height="11.3" fill="#eb967e"/>
<rect x="344.84" y="305.35" width="11.4" height="11.3" fill="#eea289"/>
<rect x="358.29" y="305.35" width="11.4" height="11.3" fill="#eda58e"/>
<rect x="371.73" y="305.35" width="11.4" height="11.3" fill="#ee9f86"/>
<rect x="385.18" y="305.35" width="11.4" height="11.3" fill="#eda58e"/>
<rect x="398.62" y="305.35" width="11.4" height="11.3" fill="#eea289"/>
<rect x="412.06" y="305.35" width="11.4" height="11.3" fill="#eb967e"/>
<rect x="425.51" y="305.35" width="11.4" height="11.3" fill="#ee9f86"/>
<rect x="438.96" y="305.35" width="11.4" height="11.3" fill="#eda992"/>
<rect x="452.40" y="305.35" width="11.4" height="11.3" fill="#eb967e"/>
<rect x="465.85" y="305.35" width="11.4" height="11.3" fill="#edae99"/>
<rect x="479.29" y="305.35" width="11.4" height="11.3" fill="#e7c5b8"/>
<rect x="492.74" y="305.35" width="11.4" height="11.3" fill="#eb967e"/>
<rect x="506.18" y="305.35" width="11.4" height="11.3" fill="#edac96"/>
<rect x="519.62" y="305.35" width="11.4" height="11.3" fill="#e07661"/>
<rect x="533.07" y="305.35" width="11.4" height="11.3" fill="#d56153"/>
<rect x="546.51" y="305.35" width="11.4" height="11.3" fill="#de705c"/>
<rect x="559.96" y="305.35" width="11.4" height="11.3" fill="#eb967e"/>
<rect x="573.40" y="305.35" width="11.4" height="11.3" fill="#eea289"/>
<rect x="586.85" y="305.35" width="11.4" height="11.3" fill="#eda58e"/>
<rect x="600.29" y="305.35" width="11.4" height="11.3" fill="#d96757"/>
<rect x="613.74" y="305.35" width="11.4" height="11.3" fill="#eb967e"/>
<rect x="627.18" y="305.35" width="11.4" height="11.3" fill="#e99079"/>
<rect x="49.05" y="318.80" width="11.4" height="11.3" fill="#e68872"/>
<rect x="62.49" y="318.80" width="11.4" height="11.3" fill="#e99079"/>
<rect x="75.94" y="318.80" width="11.4" height="11.3" fill="#eb967e"/>
<rect x="89.38" y="318.80" width="11.4" height="11.3" fill="#d56153"/>
<rect x="102.83" y="318.80" width="11.4" height="11.3" fill="#eda58e"/>
<rect x="116.27" y="318.80" width="11.4" height="11.3" fill="#ecb29d"/>
<rect x="129.72" y="318.80" width="11.4" height="11.3" fill="#e68872"/>
<rect x="143.17" y="318.80" width="11.4" height="11.3" fill="#e68872"/>
<rect x="156.61" y="318.80" width="11.4" height="11.3" fill="#c8d1e2"/>
<rect x="170.06" y="318.80" width="11.4" height="11.3" fill="#e88c75"/>
<rect x="183.50" y="318.80" width="11.4" height="11.3" fill="#e27d68"/>
<rect x="196.94" y="318.80" width="11.4" height="11.3" fill="#ecb6a2"/>
<rect x="210.39" y="318.80" width="11.4" height="11.3" fill="#edac96"/>
<rect x="223.83" y="318.80" width="11.4" height="11.3" fill="#edae99"/>
<rect x="237.28" y="318.80" width="11.4" height="11.3" fill="#e4836d"/>
<rect x="250.73" y="318.80" width="11.4" height="11.3" fill="#edac96"/>
<rect x="264.17" y="318.80" width="11.4" height="11.3" fill="#e0cfc8"/>
<rect x="277.62" y="318.80" width="11.4" height="11.3" fill="#eea289"/>
<rect x="291.06" y="318.80" width="11.4" height="11.3" fill="#eea289"/>
<rect x="304.50" y="318.80" width="11.4" height="11.3" fill="#ecb29d"/>
<rect x="317.95" y="318.80" width="11.4" height="11.3" fill="#eea289"/>
<rect x="331.40" y="318.80" width="11.4" height="11.3" fill="#edae99"/>
<rect x="344.84" y="318.80" width="11.4" height="11.3" fill="#ed9b83"/>
<rect x="358.29" y="318.80" width="11.4" height="11.3" fill="#ecb9a5"/>
<rect x="371.73" y="318.80" width="11.4" height="11.3" fill="#edac96"/>
<rect x="385.18" y="318.80" width="11.4" height="11.3" fill="#edae99"/>
<rect x="398.62" y="318.80" width="11.4" height="11.3" fill="#e8c4b5"/>
<rect x="412.06" y="318.80" width="11.4" height="11.3" fill="#edae99"/>
<rect x="425.51" y="318.80" width="11.4" height="11.3" fill="#eb967e"/>
<rect x="438.96" y="318.80" width="11.4" height="11.3" fill="#e88c75"/>
<rect x="452.40" y="318.80" width="11.4" height="11.3" fill="#eb967e"/>
<rect x="465.85" y="318.80" width="11.4" height="11.3" fill="#ecb9a5"/>
<rect x="479.29" y="318.80" width="11.4" height="11.3" fill="#e7c5b8"/>
<rect x="492.74" y="318.80" width="11.4" height="11.3" fill="#e88c75"/>
<rect x="506.18" y="318.80" width="11.4" height="11.3" fill="#eb967e"/>
<rect x="519.62" y="318.80" width="11.4" height="11.3" fill="#c13c3d"/>
<rect x="533.07" y="318.80" width="11.4" height="11.3" fill="#d25a4f"/>
<rect x="546.51" y="318.80" width="11.4" height="11.3" fill="#e07661"/>
<rect x="559.96" y="318.80" width="11.4" height="11.3" fill="#e99079"/>
<rect x="573.40" y="318.80" width="11.4" height="11.3" fill="#cd514a"/>
<rect x="586.85" y="318.80" width="11.4" height="11.3" fill="#eda58e"/>
<rect x="600.29" y="318.80" width="11.4" height="11.3" fill="#e07661"/>
<rect x="613.74" y="318.80" width="11.4" height="11.3" fill="#e99079"/>
<rect x="627.18" y="318.80" width="11.4" height="11.3" fill="#e99079"/>
<line x1="48" y1="331.2" x2="640" y2="331.2" stroke="#f3c9c0" stroke-width="0.6"/>
<line x1="639.6" y1="264" x2="639.6" y2="331" stroke="#f3c9c0" stroke-width="0.6"/>
<line x1="45" y1="270.6" x2="47.3" y2="270.6" stroke="#555" stroke-width="0.7"/>
<text x="43.6" y="274.54999999999995" font-size="10.8" fill="#231f20" text-anchor="end">1</text>
<line x1="45" y1="284.1" x2="47.3" y2="284.1" stroke="#555" stroke-width="0.7"/>
<text x="43.6" y="287.99999999999994" font-size="10.8" fill="#231f20" text-anchor="end">2/3</text>
<line x1="45" y1="297.5" x2="47.3" y2="297.5" stroke="#555" stroke-width="0.7"/>
<text x="43.6" y="301.44999999999993" font-size="10.8" fill="#231f20" text-anchor="end">4</text>
<line x1="45" y1="311.0" x2="47.3" y2="311.0" stroke="#555" stroke-width="0.7"/>
<text x="43.6" y="314.9" font-size="10.8" fill="#231f20" text-anchor="end">5</text>
<line x1="45" y1="324.4" x2="47.3" y2="324.4" stroke="#555" stroke-width="0.7"/>
<text x="43.6" y="328.34999999999997" font-size="10.8" fill="#231f20" text-anchor="end">6</text>
<line x1="54.75" y1="331.6" x2="54.75" y2="333.8" stroke="#555" stroke-width="0.7"/>
<text x="58.75" y="335.8" font-size="11.2" fill="#231f20" text-anchor="end" transform="rotate(-90 58.75 335.8)">FRP</text>
<line x1="68.19" y1="331.6" x2="68.19" y2="333.8" stroke="#555" stroke-width="0.7"/>
<text x="72.195" y="335.8" font-size="11.2" fill="#231f20" text-anchor="end" transform="rotate(-90 72.195 335.8)">MOp</text>
<line x1="81.64" y1="331.6" x2="81.64" y2="333.8" stroke="#555" stroke-width="0.7"/>
<text x="85.64" y="335.8" font-size="11.2" fill="#231f20" text-anchor="end" transform="rotate(-90 85.64 335.8)">MOs</text>
<line x1="95.08" y1="331.6" x2="95.08" y2="333.8" stroke="#555" stroke-width="0.7"/>
<text x="99.085" y="335.8" font-size="11.2" fill="#231f20" text-anchor="end" transform="rotate(-90 99.085 335.8)">SSp-n</text>
<line x1="108.53" y1="331.6" x2="108.53" y2="333.8" stroke="#555" stroke-width="0.7"/>
<text x="112.53" y="335.8" font-size="11.2" fill="#231f20" text-anchor="end" transform="rotate(-90 112.53 335.8)">SSp-bfd</text>
<line x1="121.97" y1="331.6" x2="121.97" y2="333.8" stroke="#555" stroke-width="0.7"/>
<text x="125.975" y="335.8" font-size="11.2" fill="#231f20" text-anchor="end" transform="rotate(-90 125.975 335.8)">SSp-ll</text>
<line x1="135.42" y1="331.6" x2="135.42" y2="333.8" stroke="#555" stroke-width="0.7"/>
<text x="139.42" y="335.8" font-size="11.2" fill="#231f20" text-anchor="end" transform="rotate(-90 139.42 335.8)">SSp-m</text>
<line x1="148.87" y1="331.6" x2="148.87" y2="333.8" stroke="#555" stroke-width="0.7"/>
<text x="152.865" y="335.8" font-size="11.2" fill="#231f20" text-anchor="end" transform="rotate(-90 152.865 335.8)">SSp-ul</text>
<line x1="162.31" y1="331.6" x2="162.31" y2="333.8" stroke="#555" stroke-width="0.7"/>
<text x="166.31" y="335.8" font-size="11.2" fill="#231f20" text-anchor="end" transform="rotate(-90 166.31 335.8)">SSp-tr</text>
<line x1="175.75" y1="331.6" x2="175.75" y2="333.8" stroke="#555" stroke-width="0.7"/>
<text x="179.755" y="335.8" font-size="11.2" fill="#231f20" text-anchor="end" transform="rotate(-90 179.755 335.8)">SSp-un</text>
<line x1="189.20" y1="331.6" x2="189.20" y2="333.8" stroke="#555" stroke-width="0.7"/>
<text x="193.2" y="335.8" font-size="11.2" fill="#231f20" text-anchor="end" transform="rotate(-90 193.2 335.8)">SSs</text>
<line x1="202.64" y1="331.6" x2="202.64" y2="333.8" stroke="#555" stroke-width="0.7"/>
<text x="206.64499999999998" y="335.8" font-size="11.2" fill="#231f20" text-anchor="end" transform="rotate(-90 206.64499999999998 335.8)">AUDd</text>
<line x1="216.09" y1="331.6" x2="216.09" y2="333.8" stroke="#555" stroke-width="0.7"/>
<text x="220.08999999999997" y="335.8" font-size="11.2" fill="#231f20" text-anchor="end" transform="rotate(-90 220.08999999999997 335.8)">AUDp</text>
<line x1="229.53" y1="331.6" x2="229.53" y2="333.8" stroke="#555" stroke-width="0.7"/>
<text x="233.53499999999997" y="335.8" font-size="11.2" fill="#231f20" text-anchor="end" transform="rotate(-90 233.53499999999997 335.8)">AUDpo</text>
<line x1="242.98" y1="331.6" x2="242.98" y2="333.8" stroke="#555" stroke-width="0.7"/>
<text x="246.98000000000002" y="335.8" font-size="11.2" fill="#231f20" text-anchor="end" transform="rotate(-90 246.98000000000002 335.8)">AUDv</text>
<line x1="256.43" y1="331.6" x2="256.43" y2="333.8" stroke="#555" stroke-width="0.7"/>
<text x="260.425" y="335.8" font-size="11.2" fill="#231f20" text-anchor="end" transform="rotate(-90 260.425 335.8)">VISal</text>
<line x1="269.87" y1="331.6" x2="269.87" y2="333.8" stroke="#555" stroke-width="0.7"/>
<text x="273.87" y="335.8" font-size="11.2" fill="#231f20" text-anchor="end" transform="rotate(-90 273.87 335.8)">VISam</text>
<line x1="283.31" y1="331.6" x2="283.31" y2="333.8" stroke="#555" stroke-width="0.7"/>
<text x="287.315" y="335.8" font-size="11.2" fill="#231f20" text-anchor="end" transform="rotate(-90 287.315 335.8)">VISl</text>
<line x1="296.76" y1="331.6" x2="296.76" y2="333.8" stroke="#555" stroke-width="0.7"/>
<text x="300.76" y="335.8" font-size="11.2" fill="#231f20" text-anchor="end" transform="rotate(-90 300.76 335.8)">VISp</text>
<line x1="310.20" y1="331.6" x2="310.20" y2="333.8" stroke="#555" stroke-width="0.7"/>
<text x="314.205" y="335.8" font-size="11.2" fill="#231f20" text-anchor="end" transform="rotate(-90 314.205 335.8)">VISpl</text>
<line x1="323.65" y1="331.6" x2="323.65" y2="333.8" stroke="#555" stroke-width="0.7"/>
<text x="327.65" y="335.8" font-size="11.2" fill="#231f20" text-anchor="end" transform="rotate(-90 327.65 335.8)">VISpm</text>
<line x1="337.10" y1="331.6" x2="337.10" y2="333.8" stroke="#555" stroke-width="0.7"/>
<text x="341.095" y="335.8" font-size="11.2" fill="#231f20" text-anchor="end" transform="rotate(-90 341.095 335.8)">VISli</text>
<line x1="350.54" y1="331.6" x2="350.54" y2="333.8" stroke="#555" stroke-width="0.7"/>
<text x="354.54" y="335.8" font-size="11.2" fill="#231f20" text-anchor="end" transform="rotate(-90 354.54 335.8)">VISpor</text>
<line x1="363.99" y1="331.6" x2="363.99" y2="333.8" stroke="#555" stroke-width="0.7"/>
<text x="367.985" y="335.8" font-size="11.2" fill="#231f20" text-anchor="end" transform="rotate(-90 367.985 335.8)">SPagl</text>
<line x1="377.43" y1="331.6" x2="377.43" y2="333.8" stroke="#555" stroke-width="0.7"/>
<text x="381.43" y="335.8" font-size="11.2" fill="#231f20" text-anchor="end" transform="rotate(-90 381.43 335.8)">RSPd</text>
<line x1="390.88" y1="331.6" x2="390.88" y2="333.8" stroke="#555" stroke-width="0.7"/>
<text x="394.875" y="335.8" font-size="11.2" fill="#231f20" text-anchor="end" transform="rotate(-90 394.875 335.8)">RSPv</text>
<line x1="404.32" y1="331.6" x2="404.32" y2="333.8" stroke="#555" stroke-width="0.7"/>
<text x="408.32" y="335.8" font-size="11.2" fill="#231f20" text-anchor="end" transform="rotate(-90 408.32 335.8)">VISa</text>
<line x1="417.76" y1="331.6" x2="417.76" y2="333.8" stroke="#555" stroke-width="0.7"/>
<text x="421.765" y="335.8" font-size="11.2" fill="#231f20" text-anchor="end" transform="rotate(-90 421.765 335.8)">VISrl</text>
<line x1="431.21" y1="331.6" x2="431.21" y2="333.8" stroke="#555" stroke-width="0.7"/>
<text x="435.21000000000004" y="335.8" font-size="11.2" fill="#231f20" text-anchor="end" transform="rotate(-90 435.21000000000004 335.8)">ORBl</text>
<line x1="444.66" y1="331.6" x2="444.66" y2="333.8" stroke="#555" stroke-width="0.7"/>
<text x="448.65500000000003" y="335.8" font-size="11.2" fill="#231f20" text-anchor="end" transform="rotate(-90 448.65500000000003 335.8)">ORBm</text>
<line x1="458.10" y1="331.6" x2="458.10" y2="333.8" stroke="#555" stroke-width="0.7"/>
<text x="462.1" y="335.8" font-size="11.2" fill="#231f20" text-anchor="end" transform="rotate(-90 462.1 335.8)">ORBvl</text>
<line x1="471.55" y1="331.6" x2="471.55" y2="333.8" stroke="#555" stroke-width="0.7"/>
<text x="475.545" y="335.8" font-size="11.2" fill="#231f20" text-anchor="end" transform="rotate(-90 475.545 335.8)">ACAd</text>
<line x1="484.99" y1="331.6" x2="484.99" y2="333.8" stroke="#555" stroke-width="0.7"/>
<text x="488.99" y="335.8" font-size="11.2" fill="#231f20" text-anchor="end" transform="rotate(-90 488.99 335.8)">ACAv</text>
<line x1="498.44" y1="331.6" x2="498.44" y2="333.8" stroke="#555" stroke-width="0.7"/>
<text x="502.435" y="335.8" font-size="11.2" fill="#231f20" text-anchor="end" transform="rotate(-90 502.435 335.8)">PL</text>
<line x1="511.88" y1="331.6" x2="511.88" y2="333.8" stroke="#555" stroke-width="0.7"/>
<text x="515.88" y="335.8" font-size="11.2" fill="#231f20" text-anchor="end" transform="rotate(-90 515.88 335.8)">ORBm</text>
<line x1="525.33" y1="331.6" x2="525.33" y2="333.8" stroke="#555" stroke-width="0.7"/>
<text x="529.325" y="335.8" font-size="11.2" fill="#231f20" text-anchor="end" transform="rotate(-90 529.325 335.8)">ILA</text>
<line x1="538.77" y1="331.6" x2="538.77" y2="333.8" stroke="#555" stroke-width="0.7"/>
<text x="542.77" y="335.8" font-size="11.2" fill="#231f20" text-anchor="end" transform="rotate(-90 542.77 335.8)">VISC</text>
<line x1="552.22" y1="331.6" x2="552.22" y2="333.8" stroke="#555" stroke-width="0.7"/>
<text x="556.215" y="335.8" font-size="11.2" fill="#231f20" text-anchor="end" transform="rotate(-90 556.215 335.8)">GU</text>
<line x1="565.66" y1="331.6" x2="565.66" y2="333.8" stroke="#555" stroke-width="0.7"/>
<text x="569.6600000000001" y="335.8" font-size="11.2" fill="#231f20" text-anchor="end" transform="rotate(-90 569.6600000000001 335.8)">AId</text>
<line x1="579.11" y1="331.6" x2="579.11" y2="333.8" stroke="#555" stroke-width="0.7"/>
<text x="583.105" y="335.8" font-size="11.2" fill="#231f20" text-anchor="end" transform="rotate(-90 583.105 335.8)">AIp</text>
<line x1="592.55" y1="331.6" x2="592.55" y2="333.8" stroke="#555" stroke-width="0.7"/>
<text x="596.55" y="335.8" font-size="11.2" fill="#231f20" text-anchor="end" transform="rotate(-90 596.55 335.8)">AIv</text>
<line x1="606.00" y1="331.6" x2="606.00" y2="333.8" stroke="#555" stroke-width="0.7"/>
<text x="609.995" y="335.8" font-size="11.2" fill="#231f20" text-anchor="end" transform="rotate(-90 609.995 335.8)">PERI</text>
<line x1="619.44" y1="331.6" x2="619.44" y2="333.8" stroke="#555" stroke-width="0.7"/>
<text x="623.44" y="335.8" font-size="11.2" fill="#231f20" text-anchor="end" transform="rotate(-90 623.44 335.8)">TEa</text>
<line x1="632.88" y1="331.6" x2="632.88" y2="333.8" stroke="#555" stroke-width="0.7"/>
<text x="636.885" y="335.8" font-size="11.2" fill="#231f20" text-anchor="end" transform="rotate(-90 636.885 335.8)">ECT</text>
<text x="49.6" y="251" font-size="13.4" fill="#231f20">Relative c-Fos+PV+ cell number (<tspan fill="#eeaad3">WT</tspan> vs. <tspan fill="#c2378f">T286D</tspan>)</text>
<defs><linearGradient id="cbar" x1="0" x2="1" y1="0" y2="0"><stop offset="0.000" stop-color="#3b5ca8"/><stop offset="0.125" stop-color="#6c89c2"/><stop offset="0.250" stop-color="#9cb6dd"/><stop offset="0.375" stop-color="#c3d0e6"/><stop offset="0.500" stop-color="#dbd6d4"/><stop offset="0.625" stop-color="#ebbfad"/><stop offset="0.750" stop-color="#ee9f86"/><stop offset="0.875" stop-color="#de705c"/><stop offset="1.000" stop-color="#b3232f"/></linearGradient></defs>
<rect x="558.8" y="243" width="71.6" height="5.2" fill="url(#cbar)"/>
<line x1="558.8" y1="248.2" x2="558.8" y2="249.6" stroke="#666" stroke-width="0.6"/>
<line x1="576.7" y1="248.2" x2="576.7" y2="249.6" stroke="#666" stroke-width="0.6"/>
<line x1="594.6" y1="248.2" x2="594.6" y2="249.6" stroke="#666" stroke-width="0.6"/>
<line x1="612.5" y1="248.2" x2="612.5" y2="249.6" stroke="#666" stroke-width="0.6"/>
<line x1="630.4" y1="248.2" x2="630.4" y2="249.6" stroke="#666" stroke-width="0.6"/>
<text x="558.8" y="257.6" font-size="8.8" fill="#231f20" text-anchor="middle">1.0</text>
<text x="576.7" y="257.6" font-size="8.8" fill="#231f20" text-anchor="middle">0.5</text>
<text x="594.6" y="257.6" font-size="8.8" fill="#231f20" text-anchor="middle">0</text>
<text x="612.5" y="257.6" font-size="8.8" fill="#231f20" text-anchor="middle">0.5</text>
<text x="630.4" y="257.6" font-size="8.8" fill="#231f20" text-anchor="middle">1.0</text>
<text x="557.4" y="248.5" font-size="8.8" fill="#231f20" text-anchor="end">decr.</text>
<text x="632.4" y="248.5" font-size="8.8" fill="#231f20" text-anchor="start">incr.</text>
<text x="594.8" y="239.3" font-size="8.9" fill="#231f20" text-anchor="middle">|Relative # of c-Fos+PV+ cells|</text>
<rect x="45.80" y="546.40" width="9.6" height="11.20" fill="none" stroke="#f0bcdc" stroke-width="0.95"/>
<rect x="55.70" y="530.26" width="9.6" height="27.34" fill="none" stroke="#c9509e" stroke-width="1.0"/>
<line x1="50.60" y1="543.8986" x2="50.60" y2="548.8986" stroke="#f0bcdc" stroke-width="1"/>
<line x1="60.50" y1="520" x2="60.50" y2="537" stroke="#c9509e" stroke-width="1.1"/>
<ellipse cx="50.60" cy="541" rx="1.6" ry="1.9" fill="none" stroke="#eeb3d5" stroke-width="0.75"/>
<ellipse cx="50.60" cy="546" rx="1.6" ry="1.9" fill="none" stroke="#eeb3d5" stroke-width="0.75"/>
<ellipse cx="50.60" cy="550.7" rx="1.6" ry="1.9" fill="none" stroke="#eeb3d5" stroke-width="0.75"/>
<ellipse cx="60.50" cy="520.8" rx="1.6" ry="1.9" fill="none" stroke="#c04d98" stroke-width="0.75"/>
<ellipse cx="60.50" cy="523" rx="1.6" ry="1.9" fill="none" stroke="#c04d98" stroke-width="0.75"/>
<ellipse cx="60.50" cy="536" rx="1.6" ry="1.9" fill="none" stroke="#c04d98" stroke-width="0.75"/>
<ellipse cx="60.50" cy="541.2" rx="1.6" ry="1.9" fill="none" stroke="#c04d98" stroke-width="0.75"/>
<rect x="68.93" y="526.20" width="9.6" height="31.40" fill="none" stroke="#f0bcdc" stroke-width="0.95"/>
<rect x="78.83" y="498.59" width="9.6" height="59.01" fill="none" stroke="#c9509e" stroke-width="1.0"/>
<line x1="73.73" y1="523.7008000000001" x2="73.73" y2="528.7008000000001" stroke="#f0bcdc" stroke-width="1"/>
<line x1="83.63" y1="492.3" x2="83.63" y2="505.5" stroke="#c9509e" stroke-width="1.1"/>
<ellipse cx="73.73" cy="511.3" rx="1.6" ry="1.9" fill="none" stroke="#eeb3d5" stroke-width="0.75"/>
<ellipse cx="73.73" cy="524.5" rx="1.6" ry="1.9" fill="none" stroke="#eeb3d5" stroke-width="0.75"/>
<ellipse cx="73.73" cy="532.5" rx="1.6" ry="1.9" fill="none" stroke="#eeb3d5" stroke-width="0.75"/>
<ellipse cx="73.73" cy="537.6" rx="1.6" ry="1.9" fill="none" stroke="#eeb3d5" stroke-width="0.75"/>
<ellipse cx="83.63" cy="478.5" rx="1.6" ry="1.9" fill="none" stroke="#c04d98" stroke-width="0.75"/>
<ellipse cx="83.63" cy="490.1" rx="1.6" ry="1.9" fill="none" stroke="#c04d98" stroke-width="0.75"/>
<ellipse cx="83.63" cy="505.2" rx="1.6" ry="1.9" fill="none" stroke="#c04d98" stroke-width="0.75"/>
<ellipse cx="83.63" cy="520.8" rx="1.6" ry="1.9" fill="none" stroke="#c04d98" stroke-width="0.75"/>
<rect x="92.06" y="522.32" width="9.6" height="35.28" fill="none" stroke="#f0bcdc" stroke-width="0.95"/>
<rect x="101.96" y="487.48" width="9.6" height="70.12" fill="none" stroke="#c9509e" stroke-width="1.0"/>
<line x1="96.86" y1="519.82" x2="96.86" y2="524.82" stroke="#f0bcdc" stroke-width="1"/>
<line x1="106.76" y1="475" x2="106.76" y2="499.6" stroke="#c9509e" stroke-width="1.1"/>
<ellipse cx="96.86" cy="514" rx="1.6" ry="1.9" fill="none" stroke="#eeb3d5" stroke-width="0.75"/>
<ellipse cx="96.86" cy="519.3" rx="1.6" ry="1.9" fill="none" stroke="#eeb3d5" stroke-width="0.75"/>
<ellipse cx="96.86" cy="528.8" rx="1.6" ry="1.9" fill="none" stroke="#eeb3d5" stroke-width="0.75"/>
<ellipse cx="106.76" cy="461.4" rx="1.6" ry="1.9" fill="none" stroke="#c04d98" stroke-width="0.75"/>
<ellipse cx="106.76" cy="469.4" rx="1.6" ry="1.9" fill="none" stroke="#c04d98" stroke-width="0.75"/>
<ellipse cx="106.76" cy="507.7" rx="1.6" ry="1.9" fill="none" stroke="#c04d98" stroke-width="0.75"/>
<ellipse cx="106.76" cy="510.6" rx="1.6" ry="1.9" fill="none" stroke="#c04d98" stroke-width="0.75"/>
<rect x="115.19" y="535.11" width="9.6" height="22.49" fill="none" stroke="#f0bcdc" stroke-width="0.95"/>
<rect x="125.09" y="517.38" width="9.6" height="40.22" fill="none" stroke="#c9509e" stroke-width="1.0"/>
<line x1="119.99" y1="532.609" x2="119.99" y2="537.609" stroke="#f0bcdc" stroke-width="1"/>
<line x1="129.89" y1="512.8" x2="129.89" y2="526" stroke="#c9509e" stroke-width="1.1"/>
<ellipse cx="119.99" cy="525.5" rx="1.6" ry="1.9" fill="none" stroke="#eeb3d5" stroke-width="0.75"/>
<ellipse cx="119.99" cy="534.7" rx="1.6" ry="1.9" fill="none" stroke="#eeb3d5" stroke-width="0.75"/>
<ellipse cx="119.99" cy="543.1" rx="1.6" ry="1.9" fill="none" stroke="#eeb3d5" stroke-width="0.75"/>
<ellipse cx="129.89" cy="503.3" rx="1.6" ry="1.9" fill="none" stroke="#c04d98" stroke-width="0.75"/>
<ellipse cx="129.89" cy="510.6" rx="1.6" ry="1.9" fill="none" stroke="#c04d98" stroke-width="0.75"/>
<ellipse cx="129.89" cy="543.4" rx="1.6" ry="1.9" fill="none" stroke="#c04d98" stroke-width="0.75"/>
<rect x="138.32" y="537.31" width="9.6" height="20.29" fill="none" stroke="#f0bcdc" stroke-width="0.95"/>
<rect x="148.22" y="521.97" width="9.6" height="35.63" fill="none" stroke="#c9509e" stroke-width="1.0"/>
<line x1="143.12" y1="534.8140000000001" x2="143.12" y2="539.8140000000001" stroke="#f0bcdc" stroke-width="1"/>
<line x1="153.02" y1="515.4" x2="153.02" y2="526" stroke="#c9509e" stroke-width="1.1"/>
<ellipse cx="143.12" cy="532" rx="1.6" ry="1.9" fill="none" stroke="#eeb3d5" stroke-width="0.75"/>
<ellipse cx="143.12" cy="536.1" rx="1.6" ry="1.9" fill="none" stroke="#eeb3d5" stroke-width="0.75"/>
<ellipse cx="143.12" cy="539" rx="1.6" ry="1.9" fill="none" stroke="#eeb3d5" stroke-width="0.75"/>
<ellipse cx="153.02" cy="503.7" rx="1.6" ry="1.9" fill="none" stroke="#c04d98" stroke-width="0.75"/>
<ellipse cx="153.02" cy="521.5" rx="1.6" ry="1.9" fill="none" stroke="#c04d98" stroke-width="0.75"/>
<ellipse cx="153.02" cy="526.6" rx="1.6" ry="1.9" fill="none" stroke="#c04d98" stroke-width="0.75"/>
<ellipse cx="153.02" cy="537.2" rx="1.6" ry="1.9" fill="none" stroke="#c04d98" stroke-width="0.75"/>
<rect x="161.45" y="534.23" width="9.6" height="23.37" fill="none" stroke="#f0bcdc" stroke-width="0.95"/>
<rect x="171.35" y="515.44" width="9.6" height="42.16" fill="none" stroke="#c9509e" stroke-width="1.0"/>
<line x1="166.25" y1="531.727" x2="166.25" y2="536.727" stroke="#f0bcdc" stroke-width="1"/>
<line x1="176.15" y1="511.3" x2="176.15" y2="518.6" stroke="#c9509e" stroke-width="1.1"/>
<ellipse cx="166.25" cy="528.8" rx="1.6" ry="1.9" fill="none" stroke="#eeb3d5" stroke-width="0.75"/>
<ellipse cx="166.25" cy="531.8" rx="1.6" ry="1.9" fill="none" stroke="#eeb3d5" stroke-width="0.75"/>
<ellipse cx="166.25" cy="535.4" rx="1.6" ry="1.9" fill="none" stroke="#eeb3d5" stroke-width="0.75"/>
<ellipse cx="166.25" cy="539" rx="1.6" ry="1.9" fill="none" stroke="#eeb3d5" stroke-width="0.75"/>
<ellipse cx="176.15" cy="508.7" rx="1.6" ry="1.9" fill="none" stroke="#c04d98" stroke-width="0.75"/>
<ellipse cx="176.15" cy="510.6" rx="1.6" ry="1.9" fill="none" stroke="#c04d98" stroke-width="0.75"/>
<ellipse cx="176.15" cy="518.6" rx="1.6" ry="1.9" fill="none" stroke="#c04d98" stroke-width="0.75"/>
<ellipse cx="176.15" cy="524" rx="1.6" ry="1.9" fill="none" stroke="#c04d98" stroke-width="0.75"/>
<rect x="184.58" y="525.23" width="9.6" height="32.37" fill="none" stroke="#f0bcdc" stroke-width="0.95"/>
<rect x="194.48" y="491.19" width="9.6" height="66.41" fill="none" stroke="#c9509e" stroke-width="1.0"/>
<line x1="189.38" y1="522.7306" x2="189.38" y2="527.7306" stroke="#f0bcdc" stroke-width="1"/>
<line x1="199.28" y1="481" x2="199.28" y2="501" stroke="#c9509e" stroke-width="1.1"/>
<ellipse cx="189.38" cy="516.4" rx="1.6" ry="1.9" fill="none" stroke="#eeb3d5" stroke-width="0.75"/>
<ellipse cx="189.38" cy="522.3" rx="1.6" ry="1.9" fill="none" stroke="#eeb3d5" stroke-width="0.75"/>
<ellipse cx="189.38" cy="527.4" rx="1.6" ry="1.9" fill="none" stroke="#eeb3d5" stroke-width="0.75"/>
<ellipse cx="189.38" cy="534.4" rx="1.6" ry="1.9" fill="none" stroke="#eeb3d5" stroke-width="0.75"/>
<ellipse cx="199.28" cy="473.4" rx="1.6" ry="1.9" fill="none" stroke="#c04d98" stroke-width="0.75"/>
<ellipse cx="199.28" cy="474.6" rx="1.6" ry="1.9" fill="none" stroke="#c04d98" stroke-width="0.75"/>
<ellipse cx="199.28" cy="507" rx="1.6" ry="1.9" fill="none" stroke="#c04d98" stroke-width="0.75"/>
<ellipse cx="199.28" cy="509.9" rx="1.6" ry="1.9" fill="none" stroke="#c04d98" stroke-width="0.75"/>
<rect x="207.71" y="538.02" width="9.6" height="19.58" fill="none" stroke="#f0bcdc" stroke-width="0.95"/>
<rect x="217.61" y="515.44" width="9.6" height="42.16" fill="none" stroke="#c9509e" stroke-width="1.0"/>
<line x1="212.51" y1="535.5196" x2="212.51" y2="540.5196" stroke="#f0bcdc" stroke-width="1"/>
<line x1="222.41" y1="506.2" x2="222.41" y2="524.5" stroke="#c9509e" stroke-width="1.1"/>
<ellipse cx="212.51" cy="532.5" rx="1.6" ry="1.9" fill="none" stroke="#eeb3d5" stroke-width="0.75"/>
<ellipse cx="212.51" cy="536.1" rx="1.6" ry="1.9" fill="none" stroke="#eeb3d5" stroke-width="0.75"/>
<ellipse cx="212.51" cy="542.3" rx="1.6" ry="1.9" fill="none" stroke="#eeb3d5" stroke-width="0.75"/>
<ellipse cx="222.41" cy="490.1" rx="1.6" ry="1.9" fill="none" stroke="#c04d98" stroke-width="0.75"/>
<ellipse cx="222.41" cy="511.3" rx="1.6" ry="1.9" fill="none" stroke="#c04d98" stroke-width="0.75"/>
<ellipse cx="222.41" cy="528.8" rx="1.6" ry="1.9" fill="none" stroke="#c04d98" stroke-width="0.75"/>
<ellipse cx="222.41" cy="530.3" rx="1.6" ry="1.9" fill="none" stroke="#c04d98" stroke-width="0.75"/>
<rect x="230.84" y="550.01" width="9.6" height="7.59" fill="none" stroke="#f0bcdc" stroke-width="0.95"/>
<rect x="240.74" y="539.34" width="9.6" height="18.26" fill="none" stroke="#c9509e" stroke-width="1.0"/>
<line x1="235.64" y1="547.5148" x2="235.64" y2="552.5148" stroke="#f0bcdc" stroke-width="1"/>
<line x1="245.54" y1="537.6" x2="245.54" y2="541.2" stroke="#c9509e" stroke-width="1.1"/>
<ellipse cx="235.64" cy="546.4" rx="1.6" ry="1.9" fill="none" stroke="#eeb3d5" stroke-width="0.75"/>
<ellipse cx="235.64" cy="550.7" rx="1.6" ry="1.9" fill="none" stroke="#eeb3d5" stroke-width="0.75"/>
<ellipse cx="235.64" cy="553.4" rx="1.6" ry="1.9" fill="none" stroke="#eeb3d5" stroke-width="0.75"/>
<ellipse cx="245.54" cy="528.8" rx="1.6" ry="1.9" fill="none" stroke="#c04d98" stroke-width="0.75"/>
<ellipse cx="245.54" cy="536.4" rx="1.6" ry="1.9" fill="none" stroke="#c04d98" stroke-width="0.75"/>
<ellipse cx="245.54" cy="544.2" rx="1.6" ry="1.9" fill="none" stroke="#c04d98" stroke-width="0.75"/>
<ellipse cx="245.54" cy="548.5" rx="1.6" ry="1.9" fill="none" stroke="#c04d98" stroke-width="0.75"/>
<rect x="253.97" y="556.72" width="9.6" height="0.88" fill="none" stroke="#f0bcdc" stroke-width="0.95"/>
<rect x="263.87" y="551.25" width="9.6" height="6.35" fill="none" stroke="#c9509e" stroke-width="1.0"/>
<line x1="268.67" y1="548.2" x2="268.67" y2="554" stroke="#c9509e" stroke-width="1.1"/>
<ellipse cx="258.77" cy="555.4" rx="1.6" ry="1.9" fill="none" stroke="#eeb3d5" stroke-width="0.75"/>
<ellipse cx="268.67" cy="541.2" rx="1.6" ry="1.9" fill="none" stroke="#c04d98" stroke-width="0.75"/>
<ellipse cx="268.67" cy="554.4" rx="1.6" ry="1.9" fill="none" stroke="#c04d98" stroke-width="0.75"/>
<ellipse cx="268.67" cy="555.2" rx="1.6" ry="1.9" fill="none" stroke="#c04d98" stroke-width="0.75"/>
<rect x="277.10" y="538.28" width="9.6" height="19.32" fill="none" stroke="#f0bcdc" stroke-width="0.95"/>
<rect x="287.00" y="517.38" width="9.6" height="40.22" fill="none" stroke="#c9509e" stroke-width="1.0"/>
<line x1="281.90" y1="535.7842" x2="281.90" y2="540.7842" stroke="#f0bcdc" stroke-width="1"/>
<line x1="291.80" y1="509.9" x2="291.80" y2="524.5" stroke="#c9509e" stroke-width="1.1"/>
<ellipse cx="281.90" cy="536.1" rx="1.6" ry="1.9" fill="none" stroke="#eeb3d5" stroke-width="0.75"/>
<ellipse cx="281.90" cy="539.3" rx="1.6" ry="1.9" fill="none" stroke="#eeb3d5" stroke-width="0.75"/>
<ellipse cx="281.90" cy="541.7" rx="1.6" ry="1.9" fill="none" stroke="#eeb3d5" stroke-width="0.75"/>
<ellipse cx="291.80" cy="499.6" rx="1.6" ry="1.9" fill="none" stroke="#c04d98" stroke-width="0.75"/>
<ellipse cx="291.80" cy="507.2" rx="1.6" ry="1.9" fill="none" stroke="#c04d98" stroke-width="0.75"/>
<ellipse cx="291.80" cy="529.6" rx="1.6" ry="1.9" fill="none" stroke="#c04d98" stroke-width="0.75"/>
<ellipse cx="291.80" cy="531.8" rx="1.6" ry="1.9" fill="none" stroke="#c04d98" stroke-width="0.75"/>
<rect x="300.23" y="541.19" width="9.6" height="16.41" fill="none" stroke="#f0bcdc" stroke-width="0.95"/>
<rect x="310.13" y="531.49" width="9.6" height="26.11" fill="none" stroke="#c9509e" stroke-width="1.0"/>
<line x1="305.03" y1="538.6948" x2="305.03" y2="543.6948" stroke="#f0bcdc" stroke-width="1"/>
<line x1="314.93" y1="528.8" x2="314.93" y2="534.4" stroke="#c9509e" stroke-width="1.1"/>
<ellipse cx="305.03" cy="536.1" rx="1.6" ry="1.9" fill="none" stroke="#eeb3d5" stroke-width="0.75"/>
<ellipse cx="305.03" cy="540.5" rx="1.6" ry="1.9" fill="none" stroke="#eeb3d5" stroke-width="0.75"/>
<ellipse cx="305.03" cy="545.6" rx="1.6" ry="1.9" fill="none" stroke="#eeb3d5" stroke-width="0.75"/>
<ellipse cx="314.93" cy="521.5" rx="1.6" ry="1.9" fill="none" stroke="#c04d98" stroke-width="0.75"/>
<ellipse cx="314.93" cy="530" rx="1.6" ry="1.9" fill="none" stroke="#c04d98" stroke-width="0.75"/>
<ellipse cx="314.93" cy="534.7" rx="1.6" ry="1.9" fill="none" stroke="#c04d98" stroke-width="0.75"/>
<ellipse cx="314.93" cy="538.8" rx="1.6" ry="1.9" fill="none" stroke="#c04d98" stroke-width="0.75"/>
<rect x="323.36" y="528.41" width="9.6" height="29.19" fill="none" stroke="#f0bcdc" stroke-width="0.95"/>
<rect x="333.26" y="498.24" width="9.6" height="59.36" fill="none" stroke="#c9509e" stroke-width="1.0"/>
<line x1="328.16" y1="525.9058" x2="328.16" y2="530.9058" stroke="#f0bcdc" stroke-width="1"/>
<line x1="338.06" y1="488.2" x2="338.06" y2="508.4" stroke="#c9509e" stroke-width="1.1"/>
<ellipse cx="328.16" cy="524.2" rx="1.6" ry="1.9" fill="none" stroke="#eeb3d5" stroke-width="0.75"/>
<ellipse cx="328.16" cy="531" rx="1.6" ry="1.9" fill="none" stroke="#eeb3d5" stroke-width="0.75"/>
<ellipse cx="338.06" cy="477.7" rx="1.6" ry="1.9" fill="none" stroke="#c04d98" stroke-width="0.75"/>
<ellipse cx="338.06" cy="482.8" rx="1.6" ry="1.9" fill="none" stroke="#c04d98" stroke-width="0.75"/>
<ellipse cx="338.06" cy="513.5" rx="1.6" ry="1.9" fill="none" stroke="#c04d98" stroke-width="0.75"/>
<ellipse cx="338.06" cy="518.3" rx="1.6" ry="1.9" fill="none" stroke="#c04d98" stroke-width="0.75"/>
<rect x="346.49" y="525.23" width="9.6" height="32.37" fill="none" stroke="#f0bcdc" stroke-width="0.95"/>
<rect x="356.39" y="488.01" width="9.6" height="69.59" fill="none" stroke="#c9509e" stroke-width="1.0"/>
<line x1="351.29" y1="522.7306" x2="351.29" y2="527.7306" stroke="#f0bcdc" stroke-width="1"/>
<line x1="361.19" y1="477.7" x2="361.19" y2="498.9" stroke="#c9509e" stroke-width="1.1"/>
<ellipse cx="351.29" cy="520.5" rx="1.6" ry="1.9" fill="none" stroke="#eeb3d5" stroke-width="0.75"/>
<ellipse cx="351.29" cy="529.6" rx="1.6" ry="1.9" fill="none" stroke="#eeb3d5" stroke-width="0.75"/>
<ellipse cx="361.19" cy="461.4" rx="1.6" ry="1.9" fill="none" stroke="#c04d98" stroke-width="0.75"/>
<ellipse cx="361.19" cy="476.3" rx="1.6" ry="1.9" fill="none" stroke="#c04d98" stroke-width="0.75"/>
<ellipse cx="361.19" cy="505.5" rx="1.6" ry="1.9" fill="none" stroke="#c04d98" stroke-width="0.75"/>
<ellipse cx="361.19" cy="507.7" rx="1.6" ry="1.9" fill="none" stroke="#c04d98" stroke-width="0.75"/>
<rect x="369.62" y="545.87" width="9.6" height="11.73" fill="none" stroke="#f0bcdc" stroke-width="0.95"/>
<rect x="379.52" y="539.34" width="9.6" height="18.26" fill="none" stroke="#c9509e" stroke-width="1.0"/>
<line x1="374.42" y1="543.3694" x2="374.42" y2="548.3694" stroke="#f0bcdc" stroke-width="1"/>
<line x1="384.32" y1="537.3" x2="384.32" y2="541.7" stroke="#c9509e" stroke-width="1.1"/>
<ellipse cx="374.42" cy="539.3" rx="1.6" ry="1.9" fill="none" stroke="#eeb3d5" stroke-width="0.75"/>
<ellipse cx="374.42" cy="547.8" rx="1.6" ry="1.9" fill="none" stroke="#eeb3d5" stroke-width="0.75"/>
<ellipse cx="384.32" cy="535.4" rx="1.6" ry="1.9" fill="none" stroke="#c04d98" stroke-width="0.75"/>
<ellipse cx="384.32" cy="537.6" rx="1.6" ry="1.9" fill="none" stroke="#c04d98" stroke-width="0.75"/>
<ellipse cx="384.32" cy="544.6" rx="1.6" ry="1.9" fill="none" stroke="#c04d98" stroke-width="0.75"/>
<rect x="392.75" y="545.16" width="9.6" height="12.44" fill="none" stroke="#f0bcdc" stroke-width="0.95"/>
<rect x="402.65" y="539.34" width="9.6" height="18.26" fill="none" stroke="#c9509e" stroke-width="1.0"/>
<line x1="397.55" y1="542.6638" x2="397.55" y2="547.6638" stroke="#f0bcdc" stroke-width="1"/>
<line x1="407.45" y1="536.1" x2="407.45" y2="543.1" stroke="#c9509e" stroke-width="1.1"/>
<ellipse cx="397.55" cy="537.6" rx="1.6" ry="1.9" fill="none" stroke="#eeb3d5" stroke-width="0.75"/>
<ellipse cx="397.55" cy="544.9" rx="1.6" ry="1.9" fill="none" stroke="#eeb3d5" stroke-width="0.75"/>
<ellipse cx="397.55" cy="550.7" rx="1.6" ry="1.9" fill="none" stroke="#eeb3d5" stroke-width="0.75"/>
<ellipse cx="397.55" cy="554.4" rx="1.6" ry="1.9" fill="none" stroke="#eeb3d5" stroke-width="0.75"/>
<ellipse cx="407.45" cy="527.4" rx="1.6" ry="1.9" fill="none" stroke="#c04d98" stroke-width="0.75"/>
<ellipse cx="407.45" cy="539" rx="1.6" ry="1.9" fill="none" stroke="#c04d98" stroke-width="0.75"/>
<ellipse cx="407.45" cy="542" rx="1.6" ry="1.9" fill="none" stroke="#c04d98" stroke-width="0.75"/>
<ellipse cx="407.45" cy="545.6" rx="1.6" ry="1.9" fill="none" stroke="#c04d98" stroke-width="0.75"/>
<rect x="415.88" y="550.37" width="9.6" height="7.23" fill="none" stroke="#f0bcdc" stroke-width="0.95"/>
<rect x="425.78" y="545.34" width="9.6" height="12.26" fill="none" stroke="#c9509e" stroke-width="1.0"/>
<line x1="420.68" y1="547.8676" x2="420.68" y2="552.8676" stroke="#f0bcdc" stroke-width="1"/>
<line x1="430.58" y1="542" x2="430.58" y2="547" stroke="#c9509e" stroke-width="1.1"/>
<ellipse cx="420.68" cy="549.7" rx="1.6" ry="1.9" fill="none" stroke="#eeb3d5" stroke-width="0.75"/>
<ellipse cx="420.68" cy="551" rx="1.6" ry="1.9" fill="none" stroke="#eeb3d5" stroke-width="0.75"/>
<ellipse cx="430.58" cy="539.8" rx="1.6" ry="1.9" fill="none" stroke="#c04d98" stroke-width="0.75"/>
<ellipse cx="430.58" cy="542" rx="1.6" ry="1.9" fill="none" stroke="#c04d98" stroke-width="0.75"/>
<ellipse cx="430.58" cy="547.8" rx="1.6" ry="1.9" fill="none" stroke="#c04d98" stroke-width="0.75"/>
<ellipse cx="430.58" cy="550.7" rx="1.6" ry="1.9" fill="none" stroke="#c04d98" stroke-width="0.75"/>
<rect x="447.20" y="529.11" width="9.6" height="28.49" fill="none" stroke="#f0bcdc" stroke-width="0.95"/>
<rect x="457.10" y="503.27" width="9.6" height="54.33" fill="none" stroke="#c9509e" stroke-width="1.0"/>
<line x1="452.00" y1="525.9" x2="452.00" y2="531.8" stroke="#f0bcdc" stroke-width="1"/>
<line x1="461.90" y1="493.8" x2="461.90" y2="511.3" stroke="#c9509e" stroke-width="1.1"/>
<ellipse cx="452.00" cy="524.7" rx="1.6" ry="1.9" fill="none" stroke="#eeb3d5" stroke-width="0.75"/>
<ellipse cx="452.00" cy="533.5" rx="1.6" ry="1.9" fill="none" stroke="#eeb3d5" stroke-width="0.75"/>
<ellipse cx="461.90" cy="485" rx="1.6" ry="1.9" fill="none" stroke="#c04d98" stroke-width="0.75"/>
<ellipse cx="461.90" cy="492.3" rx="1.6" ry="1.9" fill="none" stroke="#c04d98" stroke-width="0.75"/>
<ellipse cx="461.90" cy="516.4" rx="1.6" ry="1.9" fill="none" stroke="#c04d98" stroke-width="0.75"/>
<ellipse cx="461.90" cy="519.3" rx="1.6" ry="1.9" fill="none" stroke="#c04d98" stroke-width="0.75"/>
<line x1="41.5" y1="425" x2="41.5" y2="557.6" stroke="#4d4d4d" stroke-width="0.8"/>
<line x1="39" y1="557.6" x2="41.5" y2="557.6" stroke="#4d4d4d" stroke-width="0.8"/>
<text x="36.2" y="560.6" font-size="8.6" fill="#4d4d4d" text-anchor="end">0</text>
<line x1="39" y1="513.5" x2="41.5" y2="513.5" stroke="#4d4d4d" stroke-width="0.8"/>
<text x="36.2" y="516.5" font-size="8.6" fill="#4d4d4d" text-anchor="end">5</text>
<line x1="39" y1="469.4" x2="41.5" y2="469.4" stroke="#4d4d4d" stroke-width="0.8"/>
<text x="36.2" y="472.40000000000003" font-size="8.6" fill="#4d4d4d" text-anchor="end">10</text>
<line x1="39" y1="425.3" x2="41.5" y2="425.3" stroke="#4d4d4d" stroke-width="0.8"/>
<text x="36.2" y="428.3" font-size="8.6" fill="#4d4d4d" text-anchor="end">15</text>
<line x1="41.5" y1="557.6" x2="437.8" y2="557.6" stroke="#4d4d4d" stroke-width="0.9"/>
<line x1="443.2" y1="557.6" x2="471.4" y2="557.6" stroke="#4d4d4d" stroke-width="0.9"/>
<line x1="55.40" y1="557.6" x2="55.40" y2="560.1" stroke="#4d4d4d" stroke-width="0.8"/>
<text x="58.6" y="564.5" font-size="9.1" fill="#4d4d4d" text-anchor="end" transform="rotate(-90 58.6 564.5)">FRP</text>
<line x1="78.53" y1="557.6" x2="78.53" y2="560.1" stroke="#4d4d4d" stroke-width="0.8"/>
<text x="81.73" y="564.5" font-size="9.1" fill="#4d4d4d" text-anchor="end" transform="rotate(-90 81.73 564.5)">MO</text>
<line x1="101.66" y1="557.6" x2="101.66" y2="560.1" stroke="#4d4d4d" stroke-width="0.8"/>
<text x="104.86" y="564.5" font-size="9.1" fill="#4d4d4d" text-anchor="end" transform="rotate(-90 104.86 564.5)">SS</text>
<line x1="124.79" y1="557.6" x2="124.79" y2="560.1" stroke="#4d4d4d" stroke-width="0.8"/>
<text x="127.99" y="564.5" font-size="9.1" fill="#4d4d4d" text-anchor="end" transform="rotate(-90 127.99 564.5)">GU</text>
<line x1="147.92" y1="557.6" x2="147.92" y2="560.1" stroke="#4d4d4d" stroke-width="0.8"/>
<text x="151.11999999999998" y="564.5" font-size="9.1" fill="#4d4d4d" text-anchor="end" transform="rotate(-90 151.11999999999998 564.5)">VISC</text>
<line x1="171.05" y1="557.6" x2="171.05" y2="560.1" stroke="#4d4d4d" stroke-width="0.8"/>
<text x="174.24999999999997" y="564.5" font-size="9.1" fill="#4d4d4d" text-anchor="end" transform="rotate(-90 174.24999999999997 564.5)">AUD</text>
<line x1="194.18" y1="557.6" x2="194.18" y2="560.1" stroke="#4d4d4d" stroke-width="0.8"/>
<text x="197.38" y="564.5" font-size="9.1" fill="#4d4d4d" text-anchor="end" transform="rotate(-90 197.38 564.5)">VIS</text>
<line x1="217.31" y1="557.6" x2="217.31" y2="560.1" stroke="#4d4d4d" stroke-width="0.8"/>
<text x="220.51" y="564.5" font-size="9.1" fill="#4d4d4d" text-anchor="end" transform="rotate(-90 220.51 564.5)">ACA</text>
<line x1="240.44" y1="557.6" x2="240.44" y2="560.1" stroke="#4d4d4d" stroke-width="0.8"/>
<text x="243.64" y="564.5" font-size="9.1" fill="#4d4d4d" text-anchor="end" transform="rotate(-90 243.64 564.5)">PL</text>
<line x1="263.57" y1="557.6" x2="263.57" y2="560.1" stroke="#4d4d4d" stroke-width="0.8"/>
<text x="266.77" y="564.5" font-size="9.1" fill="#4d4d4d" text-anchor="end" transform="rotate(-90 266.77 564.5)">ILA</text>
<line x1="286.70" y1="557.6" x2="286.70" y2="560.1" stroke="#4d4d4d" stroke-width="0.8"/>
<text x="289.9" y="564.5" font-size="9.1" fill="#4d4d4d" text-anchor="end" transform="rotate(-90 289.9 564.5)">ORB</text>
<line x1="309.83" y1="557.6" x2="309.83" y2="560.1" stroke="#4d4d4d" stroke-width="0.8"/>
<text x="313.03" y="564.5" font-size="9.1" fill="#4d4d4d" text-anchor="end" transform="rotate(-90 313.03 564.5)">AI</text>
<line x1="332.96" y1="557.6" x2="332.96" y2="560.1" stroke="#4d4d4d" stroke-width="0.8"/>
<text x="336.15999999999997" y="564.5" font-size="9.1" fill="#4d4d4d" text-anchor="end" transform="rotate(-90 336.15999999999997 564.5)">RSP</text>
<line x1="356.09" y1="557.6" x2="356.09" y2="560.1" stroke="#4d4d4d" stroke-width="0.8"/>
<text x="359.28999999999996" y="564.5" font-size="9.1" fill="#4d4d4d" text-anchor="end" transform="rotate(-90 359.28999999999996 564.5)">PTLp</text>
<line x1="379.22" y1="557.6" x2="379.22" y2="560.1" stroke="#4d4d4d" stroke-width="0.8"/>
<text x="382.41999999999996" y="564.5" font-size="9.1" fill="#4d4d4d" text-anchor="end" transform="rotate(-90 382.41999999999996 564.5)">TEa</text>
<line x1="402.35" y1="557.6" x2="402.35" y2="560.1" stroke="#4d4d4d" stroke-width="0.8"/>
<text x="405.54999999999995" y="564.5" font-size="9.1" fill="#4d4d4d" text-anchor="end" transform="rotate(-90 405.54999999999995 564.5)">PERI</text>
<line x1="425.48" y1="557.6" x2="425.48" y2="560.1" stroke="#4d4d4d" stroke-width="0.8"/>
<text x="428.67999999999995" y="564.5" font-size="9.1" fill="#4d4d4d" text-anchor="end" transform="rotate(-90 428.67999999999995 564.5)">ECT</text>
<line x1="456.8" y1="557.6" x2="456.8" y2="560.1" stroke="#4d4d4d" stroke-width="0.8"/>
<text x="460.0" y="564.5" font-size="9.1" fill="#4d4d4d" text-anchor="end" transform="rotate(-90 460.0 564.5)">Isocortex</text>
<text x="21.8" y="490.3" font-size="9.0" fill="#231f20" text-anchor="middle" transform="rotate(-90 21.8 490.3)">c-Fos+PV+ cells in c-Fos+ cells (%)</text>
<text x="469.6" y="434.5" font-size="8.9" fill="#edb4d6" text-anchor="end" font-weight="bold">CaMKIIα(WT)</text>
<text x="469.6" y="446.8" font-size="8.9" fill="#b93f8c" text-anchor="end" font-weight="bold">CaMKIIα(T286D)</text>
<text x="437.3" y="471.9" font-size="9" fill="#231f20"><tspan font-style="italic">P</tspan> = 0.051</text>
<line x1="552.6" y1="426.3" x2="552.6" y2="556.4" stroke="#4d4d4d" stroke-width="0.8"/>
<line x1="552.6" y1="556.4" x2="674.9" y2="556.4" stroke="#4d4d4d" stroke-width="0.8"/>
<line x1="550.1" y1="556.4" x2="552.6" y2="556.4" stroke="#4d4d4d" stroke-width="0.8"/>
<text x="545.8000000000001" y="559.4" font-size="8.8" fill="#4d4d4d" text-anchor="end">0</text>
<line x1="552.6" y1="556.4" x2="552.6" y2="558.9" stroke="#4d4d4d" stroke-width="0.8"/>
<text x="552.6" y="570" font-size="9" fill="#4d4d4d" text-anchor="middle">0</text>
<line x1="550.1" y1="530.4" x2="552.6" y2="530.4" stroke="#4d4d4d" stroke-width="0.8"/>
<text x="545.8000000000001" y="533.4" font-size="8.8" fill="#4d4d4d" text-anchor="end">1000</text>
<line x1="577.1" y1="556.4" x2="577.1" y2="558.9" stroke="#4d4d4d" stroke-width="0.8"/>
<text x="577.0500000000001" y="570" font-size="9" fill="#4d4d4d" text-anchor="middle">1000</text>
<line x1="550.1" y1="504.4" x2="552.6" y2="504.4" stroke="#4d4d4d" stroke-width="0.8"/>
<text x="545.8000000000001" y="507.4" font-size="8.8" fill="#4d4d4d" text-anchor="end">2000</text>
<line x1="601.5" y1="556.4" x2="601.5" y2="558.9" stroke="#4d4d4d" stroke-width="0.8"/>
<text x="601.5" y="570" font-size="9" fill="#4d4d4d" text-anchor="middle">2000</text>
<line x1="550.1" y1="478.4" x2="552.6" y2="478.4" stroke="#4d4d4d" stroke-width="0.8"/>
<text x="545.8000000000001" y="481.4" font-size="8.8" fill="#4d4d4d" text-anchor="end">3000</text>
<line x1="626.0" y1="556.4" x2="626.0" y2="558.9" stroke="#4d4d4d" stroke-width="0.8"/>
<text x="625.95" y="570" font-size="9" fill="#4d4d4d" text-anchor="middle">3000</text>
<line x1="550.1" y1="452.4" x2="552.6" y2="452.4" stroke="#4d4d4d" stroke-width="0.8"/>
<text x="545.8000000000001" y="455.4" font-size="8.8" fill="#4d4d4d" text-anchor="end">4000</text>
<line x1="650.4" y1="556.4" x2="650.4" y2="558.9" stroke="#4d4d4d" stroke-width="0.8"/>
<text x="650.4" y="570" font-size="9" fill="#4d4d4d" text-anchor="middle">4000</text>
<line x1="550.1" y1="426.4" x2="552.6" y2="426.4" stroke="#4d4d4d" stroke-width="0.8"/>
<text x="545.8000000000001" y="429.4" font-size="8.8" fill="#4d4d4d" text-anchor="end">5000</text>
<line x1="674.9" y1="556.4" x2="674.9" y2="558.9" stroke="#4d4d4d" stroke-width="0.8"/>
<text x="674.85" y="570" font-size="9" fill="#4d4d4d" text-anchor="middle">5000</text>
<text x="613.8" y="588.6" font-size="8.9" fill="#231f20" text-anchor="middle">c−Fos signal intensity (AU)</text>
<text x="513.6" y="491" font-size="8.9" fill="#231f20" text-anchor="middle" transform="rotate(-90 513.6 491)"># of c-Fos+PV+ cells</text>
<text x="675" y="435.1" font-size="8.9" fill="#edb4d6" text-anchor="end" font-weight="bold">CaMKIIα(WT)</text>
<text x="675" y="445.1" font-size="8.9" fill="#b93f8c" text-anchor="end" font-weight="bold">CaMKIIα(T286D)</text>
<path d="M552.6,556.4 L561.8,556.4 L561.8,556.5 C562.4,556.0 564.4,554.8 565.4,553.6 C566.5,552.4 567.1,551.6 567.9,549.3 C568.6,547.1 569.3,544.4 569.9,540.1 C570.6,535.9 571.3,528.3 572.0,523.8 C572.7,519.3 573.4,515.4 574.0,513.2 C574.6,510.9 575.1,510.5 575.7,510.3 C576.2,510.1 576.6,510.5 577.1,511.9 C577.6,513.3 577.9,516.0 578.5,518.7 C579.1,521.3 579.7,525.1 580.6,527.9 C581.4,530.7 582.6,533.4 583.8,535.6 C585.1,537.9 586.4,539.7 587.9,541.6 C589.5,543.5 591.3,545.5 593.0,547.1 C594.8,548.7 596.6,550.2 598.5,551.4 C600.5,552.6 602.4,553.5 604.7,554.2 C607.0,555.0 608.8,555.5 612.4,555.9 C616.1,556.3 616.4,556.4 626.7,556.5 C637.1,556.6 666.8,556.5 674.8,556.5" fill="none" stroke="#f0acd3" stroke-width="1.25"/>
<path d="M552.6,556.4 L560.3,556.5 C560.8,555.9 562.4,554.4 563.4,552.8 C564.4,551.2 565.4,548.8 566.3,546.7 C567.1,544.6 567.7,543.6 568.3,540.1 C568.9,536.7 569.3,532.3 569.7,525.8 C570.2,519.4 570.6,509.5 571.0,501.3 C571.3,493.1 571.5,483.5 571.8,476.8 C572.0,470.0 572.3,463.2 572.6,460.8 C572.9,458.5 573.3,461.7 573.6,462.5 C574.0,463.3 574.3,462.5 574.6,465.5 C575.0,468.6 575.4,475.4 575.9,480.9 C576.3,486.3 576.7,493.0 577.3,498.2 C577.8,503.5 578.4,508.5 579.1,512.6 C579.8,516.6 580.5,519.7 581.4,522.8 C582.2,525.8 583.5,529.2 584.2,530.9 C585.0,532.7 585.2,533.3 585.9,533.4 C586.6,533.5 587.4,532.3 588.3,531.4 C589.2,530.4 590.3,528.7 591.2,527.9 C592.0,527.0 592.7,526.1 593.4,526.2 C594.2,526.4 594.8,527.8 595.7,528.9 C596.5,530.0 597.6,531.4 598.5,533.0 C599.5,534.6 600.4,536.8 601.4,538.5 C602.4,540.2 603.5,541.7 604.7,543.2 C605.8,544.7 607.1,546.0 608.4,547.3 C609.7,548.6 610.7,549.9 612.4,551.0 C614.1,552.1 616.2,553.1 618.6,553.8 C621.0,554.6 623.7,555.3 626.7,555.7 C629.8,556.1 632.9,556.2 637.0,556.3 C641.1,556.4 645.0,556.5 651.3,556.5 C657.6,556.5 670.9,556.5 674.8,556.5" fill="none" stroke="#bb3188" stroke-width="1.4"/>
<line x1="48.2" y1="667.2" x2="190.1" y2="667.2" stroke="#231f20" stroke-width="1.1"/>
<path d="M53.6,660.4 L95.6,660.4 L99.2,667.1 L95.6,673.8 L53.6,673.8 Z" fill="#8dcb7d" stroke="#231f20" stroke-width="0.8"/>
<text x="57" y="671" font-size="10.1" fill="#231f20" text-anchor="start">E11(PV)</text>
<path d="M108.2,659.8 L176,659.8 L184,666.9 L176,673.9 L108.2,673.9 Z" fill="#f8bd63" stroke="#231f20" stroke-width="0.8"/>
<text x="110.6" y="671" font-size="9.6" fill="#231f20">FLAG-<tspan font-style="italic">Camk2a</tspan></text>
<path d="M108.7,659.8 L108.7,654.8 L132,654.8" fill="none" stroke="#231f20" stroke-width="1"/>
<path d="M131,651.9 L138,654.8 L131,657.7 Z" fill="#231f20"/>
<line x1="159.1" y1="652.3" x2="159.1" y2="659.8" stroke="#f29a1f" stroke-width="1"/><circle cx="159.1" cy="652.3" r="2.3" fill="#f29a1f"/>
<text x="115.6" y="646.9" font-size="9.85" fill="#f29a1f" text-anchor="start">Watermark (E285D)</text>
<path d="M92,697 L78.2,696.6 C72,697.5 66,698.5 60,700.2 C52,704 44,712 38.5,722 C36.5,726 35.5,729 36.2,731 C38,733.5 41,734.3 44,734.4 C50,735.2 57,736 63,737 C72,738.5 82,741 92,746.4 Z" fill="#6b6b6f"/>
<path d="M60,699.5 C59.5,693 61,688 64.3,686.6 C67.5,688 69.8,693 69.6,699 Z" fill="#6b6b6f"/>
<ellipse cx="84.2" cy="703.8" rx="5" ry="6.6" transform="rotate(28 84.2 703.8)" fill="#9b9b9f" stroke="#4a4a4e" stroke-width="0.5"/>
<path d="M73,706.5 C75,702 78,699 81,697.8" fill="none" stroke="#4a4a4e" stroke-width="0.5"/>
<line x1="92" y1="697" x2="92" y2="746.4" stroke="#9c9ca0" stroke-width="1.2"/>
<line x1="33" y1="716.5" x2="38" y2="722.5" stroke="#8a8a8e" stroke-width="0.4"/>
<line x1="37" y1="714.5" x2="40" y2="720" stroke="#8a8a8e" stroke-width="0.4"/>
<line x1="44" y1="732" x2="58" y2="729" stroke="#8a8a8e" stroke-width="0.4"/>
<line x1="45" y1="733" x2="60" y2="736" stroke="#8a8a8e" stroke-width="0.4"/>
<line x1="46" y1="733" x2="54" y2="741.5" stroke="#8a8a8e" stroke-width="0.4"/>
<line x1="48" y1="733" x2="62" y2="740" stroke="#8a8a8e" stroke-width="0.4"/>
<path d="M91.3,692.4 Q104,678 117,689.5" fill="none" stroke="#231f20" stroke-width="1"/>
<path d="M120.5,691.0 L115,687.5 L116.5,693.0 Z" fill="#231f20"/>
<path d="M144.7,692.3 Q158,678 170.7,689.5" fill="none" stroke="#231f20" stroke-width="1"/>
<path d="M174.2,691.0 L168.7,687.5 L170.2,693.0 Z" fill="#231f20"/>
<path d="M122.6,697.5 C122.0,690 124.5,686.7 127.5,686.7 C130.5,686.7 131.3,690 131.3,697.5 Z" fill="#f5d4a9" stroke="#5a5046" stroke-width="0.5"/>
<path d="M131.3,697.5 C131.3,690 132.3,686.7 135.2,686.7 C138.2,686.7 140.3,690 139.8,697.5 Z" fill="#f5d4a9" stroke="#5a5046" stroke-width="0.5"/>
<path d="M123.2,743.5 L124.3,748.7 L138.7,748.7 L139.8,743.5 Z" fill="#f5d4a9" stroke="#5a5046" stroke-width="0.5"/>
<ellipse cx="112.4" cy="734.3" rx="2.5" ry="2.3" fill="#f5d4a9" stroke="#5a5046" stroke-width="0.5"/>
<ellipse cx="150.6" cy="734.3" rx="2.5" ry="2.3" fill="#f5d4a9" stroke="#5a5046" stroke-width="0.5"/>
<path d="M113.6,731 C113.0,738 117.0,743.5 123.5,744.8 C128.0,743.6 135.0,743.6 139.5,744.8 C146.0,743.5 150.0,738 149.4,731 Z" fill="#f5d4a9" stroke="#5a5046" stroke-width="0.5"/>
<path d="M131.5,697 C120.0,696 111.0,708 109.8,720 C109.3,727 111.0,731.5 114.0,732.8 L149.0,732.8 C152.0,731.5 153.7,727 153.3,720 C152.0,708 143.0,696 131.5,697 Z" fill="#f5d4a9" stroke="#5a5046" stroke-width="0.6"/>
<path d="M131.5,697.5 L131.5,723.5 C129.5,729 121.0,731.5 113.8,732.8 M131.5,723.5 C133.5,729 142.0,731.5 149.2,732.8" fill="none" stroke="#5a5046" stroke-width="0.5"/>
<path d="M176.1,697.5 C175.5,690 178.0,686.7 181.0,686.7 C184.0,686.7 184.8,690 184.8,697.5 Z" fill="none" stroke="#5a5046" stroke-width="0.5" stroke-dasharray="1.2,0.9"/>
<path d="M184.8,697.5 C184.8,690 185.8,686.7 188.7,686.7 C191.7,686.7 193.8,690 193.3,697.5 Z" fill="none" stroke="#5a5046" stroke-width="0.5" stroke-dasharray="1.2,0.9"/>
<path d="M176.7,743.5 L177.8,748.7 L192.2,748.7 L193.3,743.5 Z" fill="none" stroke="#5a5046" stroke-width="0.5" stroke-dasharray="1.2,0.9"/>
<ellipse cx="165.9" cy="734.3" rx="2.5" ry="2.3" fill="none" stroke="#5a5046" stroke-width="0.5" stroke-dasharray="1.2,0.9"/>
<ellipse cx="204.1" cy="734.3" rx="2.5" ry="2.3" fill="none" stroke="#5a5046" stroke-width="0.5" stroke-dasharray="1.2,0.9"/>
<path d="M167.1,731 C166.5,738 170.5,743.5 177.0,744.8 C181.5,743.6 188.5,743.6 193.0,744.8 C199.5,743.5 203.5,738 202.9,731 Z" fill="none" stroke="#5a5046" stroke-width="0.5" stroke-dasharray="1.2,0.9"/>
<path d="M185.0,697 C173.5,696 164.5,708 163.3,720 C162.8,727 164.5,731.5 167.5,732.8 L202.5,732.8 C205.5,731.5 207.2,727 206.8,720 C205.5,708 196.5,696 185.0,697 Z" fill="#f5d4a9" stroke="#5a5046" stroke-width="0.6"/>
<path d="M185.0,697.5 L185.0,723.5 C183.0,729 174.5,731.5 167.3,732.8 M185.0,723.5 C187.0,729 195.5,731.5 202.7,732.8" fill="none" stroke="#5a5046" stroke-width="0.5"/>
<text x="216.7" y="698.9" font-size="9.7" fill="#231f20" text-anchor="start">Homogenize</text>
<line x1="223.7" y1="708" x2="259" y2="708" stroke="#231f20" stroke-width="1.3"/><path d="M257,704.5 L263.6,708 L257,711.5 Z" fill="#231f20"/>
<path d="M285,719.5 L290.7,746 C291.5,748 295.5,748 296.3,746 L302,719.5 C298,718.5 289,718.5 285,719.5 Z" fill="#8cb4d7" stroke="#3a3a3a" stroke-width="0.6"/>
<path d="M284,698 L285,719.5 L290.7,746 C291.5,748 295.5,748 296.3,746 L302,719.5 L303,698" fill="none" stroke="#3a3a3a" stroke-width="0.7"/>
<ellipse cx="293.5" cy="697" rx="9.6" ry="2.9" fill="#fff" stroke="#3a3a3a" stroke-width="0.7"/>
<path d="M284.5,699.3 C290,701 297,701 302.5,699.3" fill="none" stroke="#3a3a3a" stroke-width="0.6"/>
<path d="M302.5,695.5 L309.8,695.8 C310.6,696.2 310.6,698.2 309.8,698.6 L302.8,698.6" fill="#fff" stroke="#3a3a3a" stroke-width="0.6"/>
<line x1="310.2" y1="718.2" x2="359.9" y2="666.9" stroke="#555" stroke-width="0.6" stroke-dasharray="1,0.8"/>
<line x1="310.2" y1="729" x2="359.9" y2="748" stroke="#555" stroke-width="0.6" stroke-dasharray="1,0.8"/>
<text x="394.6" y="656" font-size="9.9" fill="#231f20" text-anchor="middle">E11 neurons</text>
<text x="464" y="655.5" font-size="9.8" fill="#231f20" text-anchor="middle">Other neurons</text>
<rect x="373" y="665.40" width="43.8" height="13.87" fill="#f8bf5f" stroke="#231f20" stroke-width="0.6"/>
<text x="394.9" y="675.8333333333333" font-size="9.7" fill="#231f20" text-anchor="middle">CaMKII</text>
<rect x="442.2" y="665.40" width="43.8" height="13.87" fill="#f5b3d3" stroke="#231f20" stroke-width="0.6"/>
<text x="464.1" y="675.8333333333333" font-size="9.7" fill="#231f20" text-anchor="middle">CaMKII</text>
<rect x="373" y="679.27" width="43.8" height="13.87" fill="#f5b3d3" stroke="#231f20" stroke-width="0.6"/>
<text x="394.9" y="689.7" font-size="9.7" fill="#231f20" text-anchor="middle">CaMKII</text>
<rect x="442.2" y="679.27" width="43.8" height="13.87" fill="#f5b3d3" stroke="#231f20" stroke-width="0.6"/>
<text x="464.1" y="689.7" font-size="9.7" fill="#231f20" text-anchor="middle">CaMKII</text>
<rect x="373" y="693.13" width="43.8" height="13.87" fill="#f8bf5f" stroke="#231f20" stroke-width="0.6"/>
<text x="394.9" y="703.5666666666666" font-size="9.7" fill="#231f20" text-anchor="middle">CaMKII</text>
<rect x="442.2" y="693.13" width="43.8" height="13.87" fill="#f5b3d3" stroke="#231f20" stroke-width="0.6"/>
<text x="464.1" y="703.5666666666666" font-size="9.7" fill="#231f20" text-anchor="middle">CaMKII</text>
<rect x="373" y="707.00" width="43.8" height="13.87" fill="#f5b3d3" stroke="#231f20" stroke-width="0.6"/>
<text x="394.9" y="717.4333333333334" font-size="9.7" fill="#231f20" text-anchor="middle">CaMKII</text>
<rect x="442.2" y="707.00" width="43.8" height="13.87" fill="#f5b3d3" stroke="#231f20" stroke-width="0.6"/>
<text x="464.1" y="717.4333333333334" font-size="9.7" fill="#231f20" text-anchor="middle">CaMKII</text>
<rect x="373" y="720.87" width="43.8" height="13.87" fill="#f5b3d3" stroke="#231f20" stroke-width="0.6"/>
<text x="394.9" y="731.3" font-size="9.7" fill="#231f20" text-anchor="middle">CaMKII</text>
<rect x="442.2" y="720.87" width="43.8" height="13.87" fill="#f5b3d3" stroke="#231f20" stroke-width="0.6"/>
<text x="464.1" y="731.3" font-size="9.7" fill="#231f20" text-anchor="middle">CaMKII</text>
<rect x="373" y="734.73" width="43.8" height="13.87" fill="#f5b3d3" stroke="#231f20" stroke-width="0.6"/>
<text x="394.9" y="745.1666666666667" font-size="9.7" fill="#231f20" text-anchor="middle">CaMKII</text>
<rect x="442.2" y="734.73" width="43.8" height="13.87" fill="#f5b3d3" stroke="#231f20" stroke-width="0.6"/>
<text x="464.1" y="745.1666666666667" font-size="9.7" fill="#231f20" text-anchor="middle">CaMKII</text>
<text x="504.2" y="699" font-size="9.8" fill="#231f20" text-anchor="start">LC-MS/MS</text>
<line x1="507.6" y1="708.4" x2="543" y2="708.4" stroke="#231f20" stroke-width="1.3"/><path d="M541.5,704.9 L548,708.4 L541.5,711.9 Z" fill="#231f20"/>
<line x1="572" y1="679" x2="572" y2="748.8" stroke="#231f20" stroke-width="0.8"/><path d="M569.8,680 L572,674.8 L574.2,680 Z" fill="#231f20"/>
<line x1="572" y1="748.8" x2="669" y2="748.8" stroke="#231f20" stroke-width="0.8"/><path d="M668.5,746.6 L673.8,748.8 L668.5,751 Z" fill="#231f20"/>
<line x1="588.2" y1="731.1" x2="588.2" y2="748.8" stroke="#555" stroke-width="0.7"/>
<line x1="591.9" y1="736.3" x2="591.9" y2="748.8" stroke="#555" stroke-width="0.7"/>
<line x1="605.3" y1="741.1" x2="605.3" y2="748.8" stroke="#555" stroke-width="0.7"/>
<line x1="621" y1="741" x2="621" y2="748.8" stroke="#555" stroke-width="0.7"/>
<line x1="647.1" y1="741" x2="647.1" y2="748.8" stroke="#555" stroke-width="0.7"/>
<line x1="652.8" y1="733.4" x2="652.8" y2="748.8" stroke="#555" stroke-width="0.7"/>
<line x1="627.2" y1="733.4" x2="627.2" y2="748.8" stroke="#f29a1f" stroke-width="1.8"/>
<line x1="631.2" y1="718.3" x2="631.2" y2="748.8" stroke="#f2a6cc" stroke-width="1.8"/>
<text x="619.5" y="757.6" font-size="9.6" fill="#231f20" text-anchor="middle">m/z</text>
<rect x="582.1" y="666.9" width="36.5" height="31.8" fill="#fff" stroke="#555" stroke-width="0.6"/>
<path d="M584.6,672.4 Q597.7,683 609.7,672.6" fill="none" stroke="#231f20" stroke-width="1.1"/>
<line x1="600.4" y1="672.4" x2="600.4" y2="677.2" stroke="#f29a1f" stroke-width="0.8"/><circle cx="600.4" cy="672.4" r="1.7" fill="#f29a1f"/>
<circle cx="608.7" cy="680.8" r="5.4" fill="#2f9a49"/>
<text x="608.9" y="684.2" font-size="9.4" fill="#e8f4ea" text-anchor="middle">P</text>
<text x="600.2" y="695.8" font-size="9.8" fill="#231f20" text-anchor="middle">pT286</text>
<rect x="629.3" y="666.9" width="36.5" height="31.8" fill="#fff" stroke="#555" stroke-width="0.6"/>
<path d="M631.8,672.4 Q644.9,683 656.9,672.6" fill="none" stroke="#231f20" stroke-width="1.1"/>
<circle cx="655.9" cy="680.8" r="5.4" fill="#2f9a49"/>
<text x="656.0999999999999" y="684.2" font-size="9.4" fill="#e8f4ea" text-anchor="middle">P</text>
<text x="647.4" y="695.8" font-size="9.8" fill="#231f20" text-anchor="middle">pT286</text>
<line x1="608.2" y1="698.7" x2="626.6" y2="733" stroke="#333" stroke-width="0.6"/>
<line x1="637.2" y1="698.7" x2="632" y2="716.5" stroke="#333" stroke-width="0.6"/>
<line x1="66.5" y1="814.8" x2="66.5" y2="944.3" stroke="#4d4d4d" stroke-width="0.8"/>
<line x1="66.5" y1="944.3" x2="166.3" y2="944.3" stroke="#4d4d4d" stroke-width="0.8"/>
<line x1="64" y1="944.3" x2="66.5" y2="944.3" stroke="#4d4d4d" stroke-width="0.8"/>
<text x="60.5" y="947.3" font-size="8.6" fill="#4d4d4d" text-anchor="end">0</text>
<line x1="64" y1="918.4" x2="66.5" y2="918.4" stroke="#4d4d4d" stroke-width="0.8"/>
<text x="60.5" y="921.4" font-size="8.6" fill="#4d4d4d" text-anchor="end">2</text>
<line x1="64" y1="892.5" x2="66.5" y2="892.5" stroke="#4d4d4d" stroke-width="0.8"/>
<text x="60.5" y="895.5" font-size="8.6" fill="#4d4d4d" text-anchor="end">4</text>
<line x1="64" y1="866.6" x2="66.5" y2="866.6" stroke="#4d4d4d" stroke-width="0.8"/>
<text x="60.5" y="869.5999999999999" font-size="8.6" fill="#4d4d4d" text-anchor="end">6</text>
<line x1="64" y1="840.7" x2="66.5" y2="840.7" stroke="#4d4d4d" stroke-width="0.8"/>
<text x="60.5" y="843.6999999999999" font-size="8.6" fill="#4d4d4d" text-anchor="end">8</text>
<line x1="64" y1="814.8" x2="66.5" y2="814.8" stroke="#4d4d4d" stroke-width="0.8"/>
<text x="60.5" y="817.8" font-size="8.6" fill="#4d4d4d" text-anchor="end">10</text>
<line x1="93.8" y1="944.3" x2="93.8" y2="946.8" stroke="#4d4d4d" stroke-width="0.8"/>
<text x="93.8" y="957.2" font-size="8.6" fill="#4d4d4d" text-anchor="middle">S</text>
<line x1="139.5" y1="944.3" x2="139.5" y2="946.8" stroke="#4d4d4d" stroke-width="0.8"/>
<text x="139.5" y="957.2" font-size="8.6" fill="#4d4d4d" text-anchor="middle">SD</text>
<text x="40.2" y="881" font-size="8.7" fill="#231f20" text-anchor="middle" transform="rotate(-90 40.2 881)">Normalized intensity (pT286:E285D)</text>
<path d="M96.3,812.6 L96.3,808.8 L137.2,808.8 L137.2,812.6" fill="none" stroke="#858585" stroke-width="1.1"/>
<text x="91.7" y="804.7" font-size="8.95" fill="#231f20"><tspan font-style="italic">P</tspan> = 1.7 × 10<tspan font-size="5.8" dy="-3.4">-3</tspan></text>
<line x1="93.8" y1="943.0" x2="93.8" y2="927.5" stroke="#bbb" stroke-width="0.8"/>
<rect x="81.9" y="933.9" width="23.6" height="4.5" fill="#f2f2f2" stroke="#b4b4b4" stroke-width="1"/>
<line x1="81.9" y1="936.5" x2="105.5" y2="936.5" stroke="#999" stroke-width="0.9"/>
<circle cx="94.3" cy="871.8" r="2.6" fill="#78c888"/>
<circle cx="94.3" cy="907.4" r="2.6" fill="#78c888"/>
<circle cx="94.3" cy="920.3" r="2.6" fill="#78c888"/>
<circle cx="94.3" cy="928.1" r="2.6" fill="#78c888"/>
<circle cx="94.3" cy="930.7" r="2.6" fill="#78c888"/>
<circle cx="94.3" cy="932.4" r="2.6" fill="#78c888"/>
<circle cx="94.3" cy="933.9" r="2.6" fill="#78c888"/>
<circle cx="94.3" cy="935.2" r="2.6" fill="#78c888"/>
<circle cx="94.3" cy="936.3" r="2.6" fill="#78c888"/>
<circle cx="94.3" cy="937.2" r="2.6" fill="#78c888"/>
<circle cx="94.3" cy="938.1" r="2.6" fill="#78c888"/>
<circle cx="94.3" cy="939.1" r="2.6" fill="#78c888"/>
<circle cx="94.3" cy="940.2" r="2.6" fill="#78c888"/>
<circle cx="94.3" cy="941.1" r="2.6" fill="#78c888"/>
<circle cx="94.3" cy="942.0" r="2.6" fill="#78c888"/>
<circle cx="94.3" cy="943.0" r="2.6" fill="#78c888"/>
<circle cx="94.3" cy="929.4" r="2.6" fill="#78c888"/>
<circle cx="94.3" cy="931.6" r="2.6" fill="#78c888"/>
<line x1="139.5" y1="940.4" x2="139.5" y2="896.4" stroke="#bbb" stroke-width="0.8"/>
<rect x="128.3" y="913.2" width="23.1" height="16.8" fill="#fafafa" stroke="#b4b4b4" stroke-width="1"/>
<line x1="128.3" y1="925.5" x2="151.4" y2="925.5" stroke="#999" stroke-width="0.9"/>
<circle cx="140.2" cy="834.2" r="2.6" fill="#2b703d"/>
<circle cx="140.2" cy="887.3" r="2.6" fill="#2b703d"/>
<circle cx="140.2" cy="895.1" r="2.6" fill="#2b703d"/>
<circle cx="140.2" cy="911.3" r="2.6" fill="#2b703d"/>
<circle cx="140.2" cy="912.6" r="2.6" fill="#2b703d"/>
<circle cx="140.2" cy="922.9" r="2.6" fill="#2b703d"/>
<circle cx="140.2" cy="924.2" r="2.6" fill="#2b703d"/>
<circle cx="140.2" cy="925.5" r="2.6" fill="#2b703d"/>
<circle cx="140.2" cy="926.8" r="2.6" fill="#2b703d"/>
<circle cx="140.2" cy="928.1" r="2.6" fill="#2b703d"/>
<circle cx="140.2" cy="929.4" r="2.6" fill="#2b703d"/>
<circle cx="140.2" cy="930.7" r="2.6" fill="#2b703d"/>
<circle cx="140.2" cy="932.0" r="2.6" fill="#2b703d"/>
<circle cx="140.2" cy="933.3" r="2.6" fill="#2b703d"/>
<circle cx="140.2" cy="934.6" r="2.6" fill="#2b703d"/>
<circle cx="140.2" cy="935.9" r="2.6" fill="#2b703d"/>
<circle cx="140.2" cy="937.2" r="2.6" fill="#2b703d"/>
<circle cx="140.2" cy="938.5" r="2.6" fill="#2b703d"/>
<circle cx="140.2" cy="939.8" r="2.6" fill="#2b703d"/>
<text x="248.7" y="860.5" font-size="10.5" fill="#2d3487" text-anchor="middle" font-weight="bold">Prolonged</text>
<text x="248.7" y="871.7" font-size="10.5" fill="#2d3487" text-anchor="middle" font-weight="bold">wakefulness</text>
<path d="M246.9,910.0 C245.3,909.3 245.4,907.7 245.0,906.0 C244.5,904.3 244.3,901.8 244.5,899.8 C244.6,897.7 245.1,895.6 245.9,893.6 C246.8,891.5 248.2,889.0 249.7,887.4 C251.1,885.8 252.9,884.6 254.6,883.9 C256.4,883.2 258.6,883.2 260.2,882.9 C261.9,882.7 263.3,882.7 264.6,882.4 C265.8,882.1 266.6,881.4 267.7,880.9 C268.7,880.5 269.9,879.8 270.8,879.7 C271.6,879.5 272.1,879.5 272.6,879.9 C273.1,880.4 273.1,881.4 273.9,882.4 C274.6,883.4 275.9,884.9 277.0,886.1 C278.0,887.4 279.2,888.8 280.1,889.9 C280.9,890.9 281.8,891.8 281.9,892.6 C282.1,893.4 281.5,894.1 280.9,894.6 C280.4,895.0 279.2,895.2 278.5,895.4 C277.7,895.6 276.3,895.5 276.4,895.8 C276.4,896.1 278.9,896.8 278.8,897.1 C278.7,897.3 276.7,897.1 275.7,897.5 C274.8,898.0 274.0,898.7 273.0,899.8 C272.0,900.8 270.8,902.5 269.8,903.8 C268.8,905.0 267.3,906.4 267.0,907.2 C266.8,908.1 267.6,908.5 268.5,908.8 C269.5,909.2 272.1,909.2 272.6,909.5 C273.2,909.7 273.1,910.3 271.8,910.5 C270.4,910.6 267.4,910.5 264.6,910.5 C261.7,910.4 257.6,910.3 254.6,910.2 C251.7,910.1 248.6,910.7 246.9,910.0Z" fill="#c5c6c8" stroke="#2d3487" stroke-width="0.8"/>
<path d="M246.6,907.5 C245.0,907.4 240.5,907.2 237.3,907.2 C234.1,907.2 230.4,907.3 227.3,907.5 C224.2,907.7 221.1,908.0 218.6,908.5 C216.2,908.9 213.8,909.6 212.4,910.3 C211.1,911.1 210.5,911.7 210.6,912.8 C210.6,913.9 212.3,916.2 212.7,916.9" fill="none" stroke="#2d3487" stroke-width="1.7"/>
<path d="M246.6,907.5 C245.0,907.4 240.5,907.2 237.3,907.2 C234.1,907.2 230.4,907.3 227.3,907.5 C224.2,907.7 221.1,908.0 218.6,908.5 C216.2,908.9 213.8,909.6 212.4,910.3 C211.1,911.1 210.5,911.7 210.6,912.8 C210.6,913.9 212.3,916.2 212.7,916.9" fill="none" stroke="#c5c6c8" stroke-width="0.5"/>
<path d="M273.0,896.3 C275.1,895.4 278.2,895.8 277.6,897.1" fill="none" stroke="#2d3487" stroke-width="0.6"/>
<path d="M293.2,878.9 L305.5,890.8 L293.2,902.8 Z" fill="#a8a9ab"/>
<path d="M405.2,879.1 L417.3,891 L405.2,902.8 Z" fill="#a8a9ab"/>
<rect x="316.1" y="833.6" width="77.8" height="108.4" rx="5.5" fill="#f6d0e2" stroke="#e1168a" stroke-width="1"/>
<text x="356.2" y="846.3" font-size="10.5" fill="#e1168a" text-anchor="middle" font-weight="bold">PV neurons</text>
<text x="355" y="862.7" font-size="10" fill="#231f20" text-anchor="middle">pT286</text>
<line x1="355" y1="866" x2="355" y2="875.7" stroke="#231f20" stroke-width="1.35"/>
<path d="M352.1,874.1 L355,878.7 L357.9,874.1 Z" fill="#231f20"/>
<text x="355" y="889.6" font-size="10" fill="#231f20" text-anchor="middle">CaMKII</text>
<text x="355" y="898.8" font-size="10" fill="#231f20" text-anchor="middle">activity</text>
<line x1="355" y1="902.8" x2="355" y2="912.2" stroke="#231f20" stroke-width="1.35"/>
<path d="M352.1,910.6 L355,915.2 L357.9,910.6 Z" fill="#231f20"/>
<text x="355" y="924.7" font-size="10" fill="#231f20" text-anchor="middle">Neural</text>
<text x="355" y="933.9" font-size="10" fill="#231f20" text-anchor="middle">activity</text>
<text x="451.5" y="861" font-size="10.5" fill="#a3283a" text-anchor="middle" font-weight="bold">Rebound</text>
<text x="451.5" y="870.2" font-size="10.5" fill="#a3283a" text-anchor="middle" font-weight="bold">sleep</text>
<path d="M434.3,889.3 C433.3,889.9 431.7,888.3 431.0,888.6 C430.4,888.9 429.9,890.6 430.4,891.2 C430.8,891.9 432.9,891.9 433.6,892.6 C434.4,893.2 434.3,894.1 434.7,895.2 C435.1,896.3 435.4,897.9 436.3,899.1 C437.2,900.4 438.9,901.9 440.2,902.8 C441.5,903.7 442.2,904.0 444.2,904.4 C446.1,904.8 449.0,905.0 452.0,905.0 C455.1,905.1 459.7,905.0 462.6,904.6 C465.4,904.3 467.8,904.2 469.1,903.1 C470.5,901.9 470.7,900.0 470.7,897.8 C470.7,895.6 470.0,892.3 469.1,889.9 C468.2,887.5 467.2,885.1 465.2,883.4 C463.2,881.6 459.9,880.0 457.3,879.4 C454.7,878.9 452.0,879.6 449.4,880.1 C446.8,880.5 443.4,881.9 441.5,882.0 C439.7,882.2 439.0,880.6 438.2,881.0 C437.5,881.4 437.6,883.3 436.9,884.7 C436.3,886.1 435.3,888.6 434.3,889.3Z" fill="#c5c6c8" stroke="#a3283a" stroke-width="0.8"/>
<path d="M429.7,909.4 C431.9,909.2 438.5,908.2 442.8,908.1 C447.2,907.9 452.0,908.1 456.0,908.3 C459.9,908.5 464.0,909.4 466.5,909.4 C469.0,909.4 470.4,908.8 471.1,908.3 C471.8,907.8 470.5,906.7 470.4,906.4" fill="none" stroke="#a3283a" stroke-width="1"/>
<path d="M430.4,910.3 C432.7,910.1 439.7,909.4 444.2,909.4 C448.7,909.3 453.4,909.6 457.3,909.9 C461.2,910.2 465.4,911.1 467.8,910.9 C470.2,910.8 471.1,909.3 471.8,909.0" fill="none" stroke="#a3283a" stroke-width="0.8"/>
<ellipse cx="443.5" cy="902.8" rx="1.6" ry="2.2" fill="none" stroke="#a3283a" stroke-width="0.6"/>
<rect x="522.3" y="850.6" width="65.6" height="74.8" rx="5.5" fill="#d3eaf7" stroke="#30a9df" stroke-width="1"/>
<rect x="608.4" y="851.3" width="65.9" height="76.2" rx="5.5" fill="#f6d0e2" stroke="#e1168a" stroke-width="1"/>
<text x="555.2" y="866.6" font-size="10.5" fill="#1aa0dc" text-anchor="middle" font-weight="bold">Ext. neurons</text>
<text x="641.4" y="866.6" font-size="10.5" fill="#e1168a" text-anchor="middle" font-weight="bold">PV neurons</text>
<text x="555.2" y="884" font-size="10" fill="#231f20" text-anchor="middle">CaMKII</text>
<text x="555.2" y="910.1" font-size="10" fill="#231f20" text-anchor="middle">Neural</text>
<text x="555.2" y="919.1" font-size="10" fill="#231f20" text-anchor="middle">activity</text>
<text x="641.4" y="884" font-size="10" fill="#231f20" text-anchor="middle">CaMKII</text>
<text x="641.4" y="910.1" font-size="10" fill="#231f20" text-anchor="middle">Neural</text>
<text x="641.4" y="919.1" font-size="10" fill="#231f20" text-anchor="middle">activity</text>
<line x1="555.2" y1="887.1" x2="555.2" y2="896.9" stroke="#8a8a8a" stroke-width="1.35" stroke-dasharray="1.2,1"/>
<path d="M552.3000000000001,895.3 L555.2,899.9 L558.1,895.3 Z" fill="#8a8a8a"/>
<line x1="641.4" y1="887.1" x2="641.4" y2="896.9" stroke="#231f20" stroke-width="1.35"/>
<path d="M638.5,895.3 L641.4,899.9 L644.3,895.3 Z" fill="#231f20"/>
<text x="604" y="829.6" font-size="10.5" fill="#2d3487" text-anchor="middle" font-weight="bold">Prolonged wake</text>
<path d="M563.1,846.7 C575,834 612,829 627,842" fill="none" stroke="#2d3487" stroke-width="1.3"/>
<path d="M622.3,844.3 L632.6,847.3 L628.6,837.3 Z" fill="#2d3487"/>
<text x="603.3" y="954.8" font-size="10.5" fill="#a3283a" text-anchor="middle" font-weight="bold">Rebound sleep</text>
<path d="M632.6,930.5 C622,946 578,949.5 563.7,931" fill="none" stroke="#a3283a" stroke-width="1.3"/>
<line x1="558.5" y1="930.3" x2="568.8" y2="930.3" stroke="#a3283a" stroke-width="1.6"/>
</svg>
</body></html>
